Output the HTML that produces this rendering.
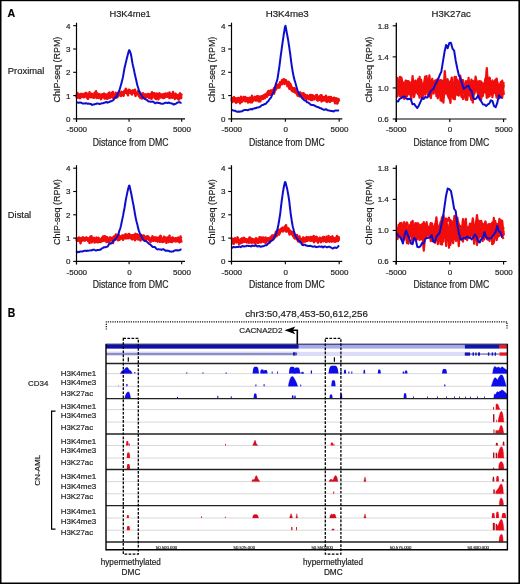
<!DOCTYPE html>
<html><head><meta charset="utf-8"><style>
html,body{margin:0;padding:0;background:#fff;}
svg{display:block;}
text{font-family:"Liberation Sans", sans-serif;stroke:#1a1a1a;stroke-width:0.18px;}
</style></head><body>
<svg width="520" height="584" viewBox="0 0 520 584">
<defs><filter id="bl" x="-2%" y="-2%" width="104%" height="104%"><feGaussianBlur stdDeviation="0.32"/></filter></defs>
<rect x="0" y="0" width="520" height="584" fill="#fff"/>
<g filter="url(#bl)">
<polyline points="76.50,96.36 77.00,96.70 77.50,95.74 78.00,94.74 78.50,95.18 79.00,94.65 79.50,96.45 80.00,98.28 80.50,95.65 81.00,95.30 81.50,96.97 82.00,96.94 82.50,96.30 83.00,94.82 83.50,96.15 84.00,97.04 84.50,94.19 85.00,94.84 85.50,92.89 86.00,93.43 86.50,93.03 87.00,95.20 87.50,94.25 88.00,96.41 88.50,96.48 89.00,95.42 89.50,92.12 90.00,94.82 90.50,96.03 91.00,96.04 91.50,93.73 92.00,94.91 92.50,94.39 93.00,94.94 93.50,97.50 94.00,95.13 94.50,96.14 95.00,97.42 95.50,95.42 96.00,95.89 96.50,96.32 97.00,96.02 97.50,94.27 98.00,96.30 98.50,97.96 99.00,94.19 99.50,97.18 100.00,96.37 100.50,95.58 101.00,99.28 101.50,97.49 102.00,94.43 102.50,96.10 103.00,96.99 103.50,96.08 104.00,97.12 104.50,96.29 105.00,97.43 105.50,98.34 106.00,95.39 106.50,96.17 107.00,95.43 107.50,95.93 108.00,94.13 108.50,94.88 109.00,95.83 109.50,97.67 110.00,97.77 110.50,94.01 111.00,94.56 111.50,96.31 112.00,92.76 112.50,94.61 113.00,95.73 113.50,97.75 114.00,96.87 114.50,95.10 115.00,94.79 115.50,95.28 116.00,97.60 116.50,94.90 117.00,94.76 117.50,95.65 118.00,94.98 118.50,94.33 119.00,92.88 119.50,94.09 120.00,93.75 120.50,95.84 121.00,95.00 121.50,93.75 122.00,94.24 122.50,92.87 123.00,94.38 123.50,93.06 124.00,93.29 124.50,90.75 125.00,92.40 125.50,89.42 126.00,88.74 126.50,91.16 127.00,90.75 127.50,92.65 128.00,95.39 128.50,90.99 129.00,90.77 129.50,92.24 130.00,92.80 130.50,91.89 131.00,91.97 131.50,93.42 132.00,93.08 132.50,90.89 133.00,92.16 133.50,92.39 134.00,91.06 134.50,92.73 135.00,91.72 135.50,94.46 136.00,93.89 136.50,93.70 137.00,92.99 137.50,93.47 138.00,91.10 138.50,92.65 139.00,94.92 139.50,92.25 140.00,96.10 140.50,93.23 141.00,96.28 141.50,94.67 142.00,96.76 142.50,95.76 143.00,93.63 143.50,97.70 144.00,98.29 144.50,95.95 145.00,95.36 145.50,95.34 146.00,94.55 146.50,97.30 147.00,95.30 147.50,95.59 148.00,94.59 148.50,94.58 149.00,94.16 149.50,97.70 150.00,96.29 150.50,97.55 151.00,96.14 151.50,94.91 152.00,95.29 152.50,95.12 153.00,95.88 153.50,95.42 154.00,95.23 154.50,93.68 155.00,94.86 155.50,98.34 156.00,95.14 156.50,94.35 157.00,96.67 157.50,98.03 158.00,94.05 158.50,95.30 159.00,94.66 159.50,93.34 160.00,96.84 160.50,96.20 161.00,96.01 161.50,95.00 162.00,96.50 162.50,95.29 163.00,95.49 163.50,94.05 164.00,94.21 164.50,97.79 165.00,95.62 165.50,96.41 166.00,95.98 166.50,95.26 167.00,95.31 167.50,96.88 168.00,95.70 168.50,95.77 169.00,96.32 169.50,98.05 170.00,97.46 170.50,96.69 171.00,94.97 171.50,93.99 172.00,97.46 172.50,97.75 173.00,96.17 173.50,97.05 174.00,97.58 174.50,97.73 175.00,97.59 175.50,95.87 176.00,98.07 176.50,94.62 177.00,97.25 177.50,97.21 178.00,97.93 178.50,99.50 179.00,98.54 179.50,94.23 180.00,93.36 180.50,96.77 181.00,94.65 181.50,95.83" fill="none" stroke="#f20a0a" stroke-width="2.4" stroke-linejoin="round"/>
<polyline points="76.50,97.32 77.00,93.77 77.50,93.09 78.00,96.26 78.50,96.35 79.00,95.95 79.50,96.12 80.00,94.80 80.50,93.97 81.00,95.57 81.50,94.57 82.00,93.88 82.50,96.64 83.00,96.34 83.50,96.62 84.00,94.82 84.50,94.95 85.00,94.56 85.50,94.85 86.00,96.19 86.50,95.24 87.00,96.64 87.50,97.14 88.00,98.84 88.50,94.82 89.00,97.17 89.50,96.25 90.00,95.90 90.50,94.09 91.00,95.42 91.50,97.13 92.00,96.23 92.50,96.23 93.00,96.01 93.50,97.73 94.00,95.95 94.50,92.97 95.00,94.42 95.50,92.68 96.00,91.16 96.50,95.06 97.00,97.92 97.50,96.25 98.00,94.35 98.50,94.83 99.00,97.57 99.50,96.58 100.00,96.22 100.50,96.07 101.00,96.32 101.50,97.36 102.00,97.08 102.50,96.33 103.00,94.80 103.50,96.50 104.00,95.46 104.50,97.26 105.00,94.51 105.50,95.66 106.00,95.81 106.50,94.57 107.00,98.51 107.50,98.36 108.00,95.86 108.50,97.14 109.00,96.25 109.50,92.55 110.00,95.91 110.50,95.98 111.00,95.85 111.50,94.36 112.00,95.22 112.50,95.70 113.00,97.40 113.50,96.35 114.00,95.94 114.50,97.57 115.00,94.92 115.50,94.44 116.00,93.06 116.50,97.34 117.00,97.06 117.50,96.78 118.00,96.26 118.50,95.22 119.00,94.94 119.50,94.09 120.00,93.88 120.50,94.29 121.00,95.96 121.50,94.55 122.00,93.18 122.50,92.10 123.00,92.11 123.50,94.94 124.00,93.67 124.50,92.70 125.00,91.81 125.50,90.79 126.00,92.20 126.50,93.39 127.00,91.76 127.50,91.67 128.00,91.70 128.50,91.76 129.00,89.63 129.50,91.16 130.00,90.96 130.50,93.03 131.00,91.38 131.50,93.21 132.00,94.51 132.50,92.15 133.00,91.63 133.50,92.72 134.00,92.49 134.50,91.43 135.00,93.64 135.50,95.93 136.00,93.35 136.50,93.12 137.00,92.49 137.50,94.21 138.00,92.60 138.50,93.22 139.00,96.44 139.50,94.50 140.00,97.22 140.50,98.00 141.00,96.40 141.50,96.86 142.00,98.48 142.50,95.70 143.00,94.62 143.50,93.77 144.00,95.87 144.50,98.06 145.00,97.27 145.50,94.56 146.00,94.42 146.50,95.09 147.00,96.20 147.50,95.76 148.00,96.29 148.50,96.39 149.00,95.65 149.50,95.97 150.00,96.33 150.50,96.08 151.00,97.11 151.50,98.88 152.00,97.25 152.50,95.94 153.00,93.80 153.50,95.92 154.00,93.16 154.50,93.90 155.00,97.12 155.50,97.18 156.00,95.67 156.50,93.58 157.00,95.10 157.50,95.17 158.00,97.25 158.50,99.37 159.00,96.65 159.50,94.80 160.00,94.28 160.50,95.73 161.00,95.59 161.50,94.45 162.00,95.79 162.50,94.69 163.00,97.60 163.50,97.96 164.00,97.69 164.50,95.71 165.00,96.67 165.50,95.91 166.00,95.43 166.50,95.27 167.00,93.92 167.50,93.96 168.00,96.86 168.50,95.99 169.00,96.52 169.50,97.18 170.00,93.69 170.50,94.68 171.00,96.24 171.50,96.57 172.00,95.81 172.50,97.47 173.00,96.32 173.50,94.24 174.00,94.69 174.50,97.10 175.00,96.51 175.50,93.76 176.00,97.70 176.50,97.41 177.00,97.98 177.50,95.73 178.00,95.37 178.50,94.92 179.00,99.36 179.50,96.60 180.00,98.12 180.50,95.49 181.00,95.86 181.50,93.45" fill="none" stroke="#f20a0a" stroke-width="2.4" stroke-linejoin="round"/>
<polyline points="76.50,95.84 77.00,97.44 77.50,94.83 78.00,97.71 78.50,96.80 79.00,94.68 79.50,95.22 80.00,95.47 80.50,95.99 81.00,95.28 81.50,94.85 82.00,95.42 82.50,94.39 83.00,94.10 83.50,96.09 84.00,97.25 84.50,94.12 85.00,95.80 85.50,95.06 86.00,94.80 86.50,97.21 87.00,95.92 87.50,98.21 88.00,95.43 88.50,96.59 89.00,95.80 89.50,95.15 90.00,96.90 90.50,96.21 91.00,97.06 91.50,96.03 92.00,94.53 92.50,95.82 93.00,96.44 93.50,97.45 94.00,95.00 94.50,95.58 95.00,93.70 95.50,96.58 96.00,94.30 96.50,93.21 97.00,95.92 97.50,97.49 98.00,93.86 98.50,94.05 99.00,94.57 99.50,94.37 100.00,96.31 100.50,94.85 101.00,95.00 101.50,96.70 102.00,95.19 102.50,96.42 103.00,94.49 103.50,93.72 104.00,93.48 104.50,98.46 105.00,96.05 105.50,96.39 106.00,96.13 106.50,96.34 107.00,96.58 107.50,98.75 108.00,94.59 108.50,93.32 109.00,93.96 109.50,94.01 110.00,97.08 110.50,97.20 111.00,94.39 111.50,93.53 112.00,95.30 112.50,97.22 113.00,91.87 113.50,95.66 114.00,94.30 114.50,96.67 115.00,94.01 115.50,94.47 116.00,92.85 116.50,93.81 117.00,97.30 117.50,96.63 118.00,94.52 118.50,93.13 119.00,91.56 119.50,93.45 120.00,94.06 120.50,93.82 121.00,93.35 121.50,91.78 122.00,92.93 122.50,93.23 123.00,95.12 123.50,95.77 124.00,92.67 124.50,91.38 125.00,92.12 125.50,91.34 126.00,91.09 126.50,91.81 127.00,90.72 127.50,92.78 128.00,92.04 128.50,92.27 129.00,91.50 129.50,90.63 130.00,90.41 130.50,91.44 131.00,91.36 131.50,92.50 132.00,92.10 132.50,90.38 133.00,92.04 133.50,90.44 134.00,91.39 134.50,91.74 135.00,89.64 135.50,92.83 136.00,93.58 136.50,93.35 137.00,93.18 137.50,93.35 138.00,92.88 138.50,94.04 139.00,94.17 139.50,95.10 140.00,93.86 140.50,95.76 141.00,95.88 141.50,95.40 142.00,95.12 142.50,96.12 143.00,93.44 143.50,96.17 144.00,96.30 144.50,96.36 145.00,96.33 145.50,94.90 146.00,95.49 146.50,96.90 147.00,96.74 147.50,96.04 148.00,93.85 148.50,96.74 149.00,98.09 149.50,97.85 150.00,96.31 150.50,93.96 151.00,97.14 151.50,95.52 152.00,92.30 152.50,95.81 153.00,93.63 153.50,93.68 154.00,95.11 154.50,97.77 155.00,95.82 155.50,96.76 156.00,99.07 156.50,98.80 157.00,96.19 157.50,95.43 158.00,93.98 158.50,94.85 159.00,96.64 159.50,96.77 160.00,96.51 160.50,97.43 161.00,95.10 161.50,95.97 162.00,97.27 162.50,97.31 163.00,97.88 163.50,96.82 164.00,95.76 164.50,96.34 165.00,94.30 165.50,93.51 166.00,96.59 166.50,96.16 167.00,96.17 167.50,93.50 168.00,95.05 168.50,94.91 169.00,94.19 169.50,92.43 170.00,95.29 170.50,97.42 171.00,96.70 171.50,95.24 172.00,96.07 172.50,96.64 173.00,92.04 173.50,95.43 174.00,97.00 174.50,97.55 175.00,98.99 175.50,98.18 176.00,96.83 176.50,96.74 177.00,97.20 177.50,95.41 178.00,96.08 178.50,97.82 179.00,99.16 179.50,96.22 180.00,96.00 180.50,96.63 181.00,98.12 181.50,96.29" fill="none" stroke="#f20a0a" stroke-width="2.4" stroke-linejoin="round"/>
<polyline points="76.50,102.81 77.00,102.45 77.50,102.38 78.00,102.61 78.50,102.86 79.00,102.79 79.50,102.47 80.00,102.46 80.50,102.64 81.00,102.64 81.50,102.77 82.00,103.18 82.50,103.43 83.00,103.42 83.50,103.43 84.00,103.53 84.50,103.58 85.00,103.51 85.50,103.29 86.00,103.22 86.50,103.36 87.00,103.52 87.50,103.68 88.00,103.66 88.50,103.55 89.00,103.62 89.50,103.79 90.00,103.88 90.50,103.83 91.00,104.02 91.50,104.55 92.00,104.96 92.50,104.88 93.00,104.56 93.50,104.47 94.00,104.49 94.50,104.26 95.00,104.06 95.50,104.08 96.00,104.02 96.50,103.67 97.00,103.38 97.50,103.48 98.00,103.73 98.50,103.78 99.00,103.82 99.50,103.93 100.00,103.94 100.50,103.83 101.00,103.62 101.50,103.33 102.00,103.14 102.50,103.16 103.00,103.26 103.50,103.07 104.00,102.77 104.50,102.64 105.00,102.62 105.50,102.43 106.00,102.05 106.50,101.96 107.00,102.31 107.50,102.66 108.00,102.48 108.50,102.13 109.00,102.07 109.50,101.96 110.00,101.52 110.50,101.23 111.00,101.21 111.50,101.07 112.00,100.79 112.50,100.48 113.00,100.34 113.50,99.98 114.00,99.24 114.50,98.35 115.00,97.60 115.50,97.26 116.00,97.00 116.50,96.62 117.00,95.77 117.50,94.46 118.00,93.25 118.50,92.31 119.00,91.30 119.50,89.90 120.00,88.26 120.50,86.52 121.00,84.72 121.50,82.94 122.00,81.08 122.50,79.08 123.00,76.79 123.50,73.87 124.00,70.89 124.50,68.30 125.00,65.98 125.50,63.92 126.00,61.87 126.50,59.73 127.00,57.74 127.50,55.78 128.00,53.95 128.50,52.09 129.00,50.28 129.50,50.31 130.00,51.62 130.50,52.99 131.00,54.62 131.50,57.43 132.00,60.60 132.50,63.40 133.00,65.77 133.50,67.89 134.00,70.15 134.50,72.63 135.00,74.96 135.50,77.11 136.00,79.28 136.50,81.49 137.00,83.66 137.50,85.75 138.00,87.23 138.50,88.98 139.00,90.72 139.50,91.84 140.00,92.68 140.50,93.69 141.00,94.59 141.50,95.38 142.00,96.31 142.50,96.98 143.00,97.46 143.50,97.92 144.00,98.32 144.50,98.51 145.00,98.80 145.50,99.27 146.00,99.62 146.50,99.72 147.00,100.04 147.50,100.52 148.00,101.06 148.50,101.43 149.00,101.50 149.50,101.43 150.00,101.59 150.50,101.69 151.00,101.76 151.50,101.83 152.00,101.66 152.50,101.56 153.00,101.73 153.50,101.95 154.00,102.32 154.50,102.80 155.00,103.20 155.50,103.33 156.00,103.02 156.50,102.65 157.00,102.58 157.50,102.65 158.00,102.82 158.50,102.99 159.00,102.92 159.50,102.92 160.00,103.25 160.50,103.50 161.00,103.61 161.50,103.69 162.00,103.69 162.50,103.71 163.00,103.74 163.50,103.63 164.00,103.42 164.50,103.11 165.00,102.81 165.50,102.77 166.00,102.83 166.50,102.78 167.00,102.81 167.50,103.01 168.00,102.91 168.50,102.56 169.00,102.51 169.50,102.80 170.00,103.05 170.50,103.17 171.00,103.30 171.50,103.44 172.00,103.56 172.50,103.65 173.00,103.95 173.50,104.42 174.00,104.54 174.50,104.15 175.00,103.90 175.50,103.92 176.00,103.70 176.50,103.29 177.00,102.95 177.50,102.66 178.00,102.43 178.50,102.34 179.00,102.24 179.50,102.11 180.00,102.24 180.50,102.61 181.00,102.89 181.50,102.96" fill="none" stroke="#1010d0" stroke-width="2.0" stroke-linejoin="round"/>
<line x1="76.5" y1="22.700000000000003" x2="76.5" y2="121.9" stroke="#000" stroke-width="1.2"/>
<line x1="75.9" y1="118.9" x2="185.0" y2="118.9" stroke="#000" stroke-width="1.2"/>
<line x1="73.2" y1="118.9" x2="76.5" y2="118.9" stroke="#000" stroke-width="1.1"/>
<text x="70.5" y="121.8" font-size="8" text-anchor="end" fill="#1a1a1a">0</text>
<line x1="73.2" y1="95.60000000000001" x2="76.5" y2="95.60000000000001" stroke="#000" stroke-width="1.1"/>
<text x="70.5" y="98.5" font-size="8" text-anchor="end" fill="#1a1a1a">1</text>
<line x1="73.2" y1="72.30000000000001" x2="76.5" y2="72.30000000000001" stroke="#000" stroke-width="1.1"/>
<text x="70.5" y="75.2" font-size="8" text-anchor="end" fill="#1a1a1a">2</text>
<line x1="73.2" y1="49.0" x2="76.5" y2="49.0" stroke="#000" stroke-width="1.1"/>
<text x="70.5" y="51.9" font-size="8" text-anchor="end" fill="#1a1a1a">3</text>
<line x1="73.2" y1="25.700000000000003" x2="76.5" y2="25.700000000000003" stroke="#000" stroke-width="1.1"/>
<text x="70.5" y="28.6" font-size="8" text-anchor="end" fill="#1a1a1a">4</text>
<line x1="76.5" y1="118.9" x2="76.5" y2="121.80000000000001" stroke="#000" stroke-width="1.1"/>
<text x="76.8" y="132.2" font-size="8" text-anchor="middle" fill="#1a1a1a">-5000</text>
<line x1="129.1" y1="118.9" x2="129.1" y2="121.80000000000001" stroke="#000" stroke-width="1.1"/>
<text x="129.4" y="132.2" font-size="8" text-anchor="middle" fill="#1a1a1a">0</text>
<line x1="181.7" y1="118.9" x2="181.7" y2="121.80000000000001" stroke="#000" stroke-width="1.1"/>
<text x="182.0" y="132.2" font-size="8" text-anchor="middle" fill="#1a1a1a">5000</text>
<text x="130.6" y="145.6" font-size="10" text-anchor="middle" textLength="75.8" lengthAdjust="spacingAndGlyphs" fill="#1a1a1a">Distance from DMC</text>
<text transform="translate(60.3,69.6) rotate(-90)" font-size="9" text-anchor="middle" textLength="65.9" lengthAdjust="spacingAndGlyphs" fill="#1a1a1a">ChIP-seq (RPM)</text>
<text x="130.1" y="17.3" font-size="9.5" text-anchor="middle" textLength="41.3" lengthAdjust="spacingAndGlyphs" fill="#1a1a1a">H3K4me1</text>
<polyline points="231.50,97.38 232.00,99.40 232.50,101.33 233.00,101.08 233.50,99.97 234.00,98.98 234.50,100.68 235.00,99.15 235.50,98.14 236.00,98.93 236.50,101.86 237.00,100.73 237.50,101.46 238.00,99.60 238.50,100.94 239.00,99.12 239.50,99.92 240.00,103.32 240.50,101.16 241.00,99.13 241.50,99.51 242.00,100.30 242.50,101.25 243.00,98.79 243.50,96.98 244.00,98.80 244.50,99.47 245.00,99.86 245.50,101.33 246.00,100.23 246.50,100.35 247.00,98.12 247.50,100.70 248.00,102.49 248.50,100.76 249.00,99.74 249.50,99.78 250.00,101.49 250.50,98.15 251.00,98.85 251.50,99.77 252.00,99.97 252.50,98.44 253.00,99.07 253.50,98.39 254.00,98.70 254.50,98.16 255.00,96.84 255.50,98.29 256.00,99.32 256.50,96.99 257.00,97.74 257.50,98.73 258.00,96.64 258.50,97.74 259.00,96.59 259.50,99.54 260.00,101.45 260.50,100.77 261.00,97.70 261.50,98.42 262.00,97.65 262.50,97.70 263.00,98.98 263.50,95.51 264.00,97.85 264.50,96.82 265.00,98.20 265.50,96.40 266.00,94.95 266.50,95.98 267.00,96.45 267.50,95.26 268.00,95.19 268.50,93.19 269.00,90.95 269.50,94.43 270.00,94.24 270.50,93.04 271.00,92.62 271.50,93.29 272.00,90.97 272.50,90.06 273.00,90.60 273.50,91.75 274.00,88.53 274.50,90.79 275.00,88.16 275.50,87.13 276.00,89.57 276.50,87.42 277.00,85.18 277.50,86.02 278.00,87.54 278.50,87.35 279.00,84.82 279.50,85.34 280.00,85.28 280.50,83.26 281.00,83.93 281.50,83.09 282.00,81.94 282.50,81.63 283.00,82.01 283.50,81.57 284.00,80.67 284.50,80.95 285.00,82.85 285.50,81.92 286.00,82.65 286.50,83.76 287.00,83.94 287.50,86.24 288.00,83.23 288.50,85.36 289.00,85.17 289.50,88.52 290.00,88.60 290.50,84.25 291.00,85.81 291.50,88.86 292.00,89.90 292.50,90.27 293.00,89.81 293.50,90.99 294.00,91.75 294.50,91.30 295.00,92.41 295.50,88.92 296.00,92.33 296.50,91.26 297.00,93.81 297.50,92.74 298.00,92.16 298.50,93.87 299.00,92.65 299.50,92.61 300.00,92.32 300.50,94.59 301.00,95.85 301.50,96.62 302.00,95.48 302.50,96.88 303.00,95.80 303.50,95.74 304.00,96.89 304.50,97.58 305.00,95.90 305.50,95.94 306.00,96.28 306.50,96.52 307.00,95.63 307.50,97.93 308.00,96.54 308.50,97.30 309.00,95.96 309.50,97.44 310.00,97.63 310.50,97.03 311.00,100.03 311.50,98.53 312.00,100.09 312.50,98.99 313.00,96.71 313.50,97.01 314.00,98.20 314.50,97.90 315.00,97.82 315.50,97.14 316.00,95.33 316.50,96.94 317.00,95.03 317.50,98.11 318.00,97.13 318.50,97.08 319.00,97.91 319.50,98.42 320.00,96.14 320.50,95.56 321.00,96.31 321.50,95.34 322.00,97.18 322.50,100.48 323.00,97.66 323.50,99.20 324.00,97.08 324.50,98.95 325.00,98.51 325.50,98.92 326.00,100.11 326.50,101.64 327.00,99.73 327.50,99.18 328.00,97.99 328.50,99.84 329.00,99.23 329.50,100.45 330.00,99.81 330.50,101.46 331.00,96.97 331.50,98.87 332.00,100.62 332.50,99.09 333.00,98.38 333.50,98.85 334.00,97.72 334.50,100.06 335.00,103.36 335.50,101.61 336.00,98.32 336.50,98.34 337.00,99.34 337.50,101.07 338.00,98.86 338.50,99.03 339.00,101.28" fill="none" stroke="#f20a0a" stroke-width="2.4" stroke-linejoin="round"/>
<polyline points="231.50,101.48 232.00,99.70 232.50,98.40 233.00,97.83 233.50,98.56 234.00,97.21 234.50,100.55 235.00,99.45 235.50,100.87 236.00,102.72 236.50,101.62 237.00,98.79 237.50,101.04 238.00,101.40 238.50,98.90 239.00,98.42 239.50,99.19 240.00,97.90 240.50,100.93 241.00,96.62 241.50,97.75 242.00,99.04 242.50,99.29 243.00,99.80 243.50,99.89 244.00,99.48 244.50,100.55 245.00,96.86 245.50,98.92 246.00,98.48 246.50,99.45 247.00,99.48 247.50,98.04 248.00,98.42 248.50,100.23 249.00,99.69 249.50,98.72 250.00,102.11 250.50,102.24 251.00,97.65 251.50,99.59 252.00,102.40 252.50,100.36 253.00,99.16 253.50,98.37 254.00,97.83 254.50,98.06 255.00,97.83 255.50,99.18 256.00,97.82 256.50,97.35 257.00,96.47 257.50,97.62 258.00,96.76 258.50,97.68 259.00,99.20 259.50,98.48 260.00,98.44 260.50,98.13 261.00,97.61 261.50,97.20 262.00,97.04 262.50,97.99 263.00,96.02 263.50,98.41 264.00,96.79 264.50,95.37 265.00,95.32 265.50,95.06 266.00,95.75 266.50,94.87 267.00,96.59 267.50,93.76 268.00,91.37 268.50,92.51 269.00,91.08 269.50,93.23 270.00,94.56 270.50,93.48 271.00,90.54 271.50,91.01 272.00,93.78 272.50,91.89 273.00,91.02 273.50,92.20 274.00,93.63 274.50,91.67 275.00,89.50 275.50,89.14 276.00,88.81 276.50,86.68 277.00,85.59 277.50,86.30 278.00,84.86 278.50,85.37 279.00,85.64 279.50,87.65 280.00,83.62 280.50,83.61 281.00,83.40 281.50,83.90 282.00,84.14 282.50,81.80 283.00,80.56 283.50,79.17 284.00,80.12 284.50,81.98 285.00,81.31 285.50,79.86 286.00,80.49 286.50,81.88 287.00,83.03 287.50,82.40 288.00,83.04 288.50,81.83 289.00,83.58 289.50,87.21 290.00,83.63 290.50,86.04 291.00,87.56 291.50,87.38 292.00,87.41 292.50,88.89 293.00,89.65 293.50,89.81 294.00,88.28 294.50,90.42 295.00,90.18 295.50,90.92 296.00,92.38 296.50,93.43 297.00,93.92 297.50,92.72 298.00,94.70 298.50,95.59 299.00,95.96 299.50,96.33 300.00,94.69 300.50,94.72 301.00,95.78 301.50,93.53 302.00,95.23 302.50,94.72 303.00,94.72 303.50,93.26 304.00,94.44 304.50,96.04 305.00,97.55 305.50,97.81 306.00,96.57 306.50,96.19 307.00,95.63 307.50,97.08 308.00,96.67 308.50,97.94 309.00,99.34 309.50,97.03 310.00,94.98 310.50,95.52 311.00,94.97 311.50,95.72 312.00,98.91 312.50,97.70 313.00,95.69 313.50,98.39 314.00,99.35 314.50,97.36 315.00,96.79 315.50,97.36 316.00,98.36 316.50,99.10 317.00,99.95 317.50,100.15 318.00,100.21 318.50,100.36 319.00,99.14 319.50,96.45 320.00,98.02 320.50,98.77 321.00,98.22 321.50,99.61 322.00,98.13 322.50,97.64 323.00,100.54 323.50,99.92 324.00,99.37 324.50,100.29 325.00,100.52 325.50,99.16 326.00,95.74 326.50,97.66 327.00,98.22 327.50,97.83 328.00,99.50 328.50,100.76 329.00,98.69 329.50,98.14 330.00,101.75 330.50,98.97 331.00,97.81 331.50,99.66 332.00,100.00 332.50,98.85 333.00,100.41 333.50,98.97 334.00,98.40 334.50,99.90 335.00,100.66 335.50,99.14 336.00,100.11 336.50,100.27 337.00,103.42 337.50,99.73 338.00,101.62 338.50,100.13 339.00,99.82" fill="none" stroke="#f20a0a" stroke-width="2.4" stroke-linejoin="round"/>
<polyline points="231.50,101.36 232.00,101.59 232.50,101.87 233.00,100.66 233.50,99.41 234.00,99.47 234.50,100.68 235.00,101.03 235.50,101.81 236.00,100.87 236.50,101.51 237.00,101.90 237.50,100.10 238.00,97.98 238.50,98.00 239.00,98.20 239.50,101.28 240.00,99.21 240.50,101.12 241.00,100.84 241.50,101.92 242.00,101.06 242.50,99.61 243.00,99.34 243.50,99.64 244.00,99.65 244.50,98.89 245.00,99.59 245.50,101.03 246.00,97.70 246.50,99.25 247.00,98.35 247.50,99.51 248.00,100.28 248.50,99.43 249.00,99.86 249.50,97.63 250.00,100.10 250.50,98.69 251.00,99.75 251.50,98.92 252.00,95.83 252.50,97.60 253.00,99.16 253.50,100.59 254.00,99.23 254.50,98.66 255.00,97.07 255.50,100.11 256.00,100.63 256.50,98.50 257.00,97.62 257.50,96.27 258.00,99.17 258.50,101.30 259.00,99.27 259.50,99.40 260.00,98.33 260.50,96.72 261.00,98.70 261.50,96.14 262.00,96.93 262.50,97.68 263.00,98.20 263.50,97.54 264.00,97.03 264.50,95.39 265.00,94.60 265.50,95.76 266.00,94.76 266.50,93.74 267.00,93.60 267.50,93.92 268.00,92.15 268.50,92.09 269.00,91.74 269.50,93.47 270.00,93.89 270.50,94.86 271.00,90.77 271.50,91.04 272.00,92.46 272.50,91.00 273.00,90.63 273.50,92.28 274.00,89.70 274.50,87.91 275.00,87.36 275.50,88.77 276.00,88.24 276.50,85.85 277.00,85.79 277.50,87.14 278.00,86.75 278.50,85.04 279.00,85.83 279.50,85.21 280.00,82.30 280.50,83.37 281.00,83.90 281.50,82.23 282.00,80.15 282.50,81.85 283.00,83.09 283.50,83.24 284.00,79.63 284.50,83.96 285.00,80.59 285.50,82.38 286.00,82.90 286.50,83.18 287.00,82.62 287.50,81.90 288.00,84.23 288.50,83.32 289.00,82.50 289.50,88.70 290.00,87.82 290.50,88.92 291.00,86.85 291.50,89.79 292.00,90.87 292.50,91.17 293.00,89.71 293.50,88.82 294.00,90.03 294.50,88.23 295.00,89.10 295.50,91.43 296.00,90.90 296.50,92.03 297.00,92.87 297.50,95.49 298.00,95.18 298.50,94.04 299.00,95.30 299.50,93.57 300.00,94.30 300.50,95.64 301.00,93.63 301.50,94.40 302.00,93.72 302.50,95.63 303.00,97.41 303.50,95.17 304.00,95.91 304.50,94.87 305.00,94.54 305.50,94.98 306.00,98.41 306.50,99.67 307.00,97.50 307.50,96.10 308.00,97.47 308.50,96.73 309.00,97.88 309.50,97.53 310.00,97.56 310.50,97.83 311.00,96.59 311.50,96.47 312.00,95.23 312.50,96.43 313.00,95.76 313.50,97.04 314.00,96.53 314.50,97.77 315.00,98.12 315.50,96.15 316.00,96.62 316.50,96.90 317.00,99.07 317.50,100.39 318.00,99.41 318.50,98.21 319.00,99.72 319.50,97.05 320.00,99.81 320.50,97.49 321.00,95.58 321.50,101.46 322.00,100.70 322.50,97.73 323.00,98.71 323.50,98.55 324.00,98.66 324.50,97.03 325.00,97.95 325.50,99.43 326.00,99.53 326.50,100.51 327.00,99.76 327.50,101.80 328.00,98.78 328.50,99.15 329.00,96.91 329.50,97.79 330.00,100.59 330.50,98.61 331.00,99.91 331.50,99.33 332.00,98.24 332.50,98.91 333.00,98.86 333.50,99.10 334.00,100.57 334.50,100.49 335.00,99.02 335.50,98.66 336.00,99.97 336.50,99.93 337.00,101.48 337.50,103.30 338.00,101.34 338.50,100.04 339.00,99.78" fill="none" stroke="#f20a0a" stroke-width="2.4" stroke-linejoin="round"/>
<polyline points="231.50,109.95 232.00,109.99 232.50,110.10 233.00,110.31 233.50,110.57 234.00,110.75 234.50,110.70 235.00,110.62 235.50,110.81 236.00,111.26 236.50,111.59 237.00,111.75 237.50,111.76 238.00,111.65 238.50,111.55 239.00,111.74 239.50,111.83 240.00,111.52 240.50,111.52 241.00,111.60 241.50,111.42 242.00,111.25 242.50,111.03 243.00,110.67 243.50,110.37 244.00,110.08 244.50,109.91 245.00,109.90 245.50,109.99 246.00,110.03 246.50,109.93 247.00,109.93 247.50,110.25 248.00,110.30 248.50,109.95 249.00,109.57 249.50,109.44 250.00,109.41 250.50,109.17 251.00,109.01 251.50,109.32 252.00,109.39 252.50,108.94 253.00,108.75 253.50,108.71 254.00,108.60 254.50,108.41 255.00,108.12 255.50,108.12 256.00,108.16 256.50,107.86 257.00,107.54 257.50,107.44 258.00,107.46 258.50,107.44 259.00,107.20 259.50,106.95 260.00,106.74 260.50,106.53 261.00,105.96 261.50,105.35 262.00,105.13 262.50,105.03 263.00,105.00 263.50,104.85 264.00,104.32 264.50,104.04 265.00,104.10 265.50,104.02 266.00,103.71 266.50,103.01 267.00,102.17 267.50,101.73 268.00,101.44 268.50,100.86 269.00,100.04 269.50,99.27 270.00,98.62 270.50,98.18 271.00,97.62 271.50,96.41 272.00,95.09 272.50,94.21 273.00,93.52 273.50,92.59 274.00,91.33 274.50,89.34 275.00,87.32 275.50,85.30 276.00,83.60 276.50,82.12 277.00,80.48 277.50,78.75 278.00,75.68 278.50,72.31 279.00,69.00 279.50,65.66 280.00,61.74 280.50,57.72 281.00,53.93 281.50,50.29 282.00,46.66 282.50,43.14 283.00,39.54 283.50,36.11 284.00,32.99 284.50,29.86 285.00,26.67 285.50,25.77 286.00,28.35 286.50,31.22 287.00,33.89 287.50,36.49 288.00,39.20 288.50,42.30 289.00,45.73 289.50,49.16 290.00,52.33 290.50,56.14 291.00,60.26 291.50,64.14 292.00,67.47 292.50,70.50 293.00,73.24 293.50,75.69 294.00,78.12 294.50,79.88 295.00,81.56 295.50,83.29 296.00,85.11 296.50,86.90 297.00,88.60 297.50,90.33 298.00,91.68 298.50,92.54 299.00,93.60 299.50,94.64 300.00,95.28 300.50,95.79 301.00,96.48 301.50,97.32 302.00,98.07 302.50,98.58 303.00,98.90 303.50,99.40 304.00,99.97 304.50,100.30 305.00,100.53 305.50,100.65 306.00,100.99 306.50,101.67 307.00,102.28 307.50,102.37 308.00,102.38 308.50,102.65 309.00,103.10 309.50,103.60 310.00,104.11 310.50,104.54 311.00,104.76 311.50,104.92 312.00,104.99 312.50,104.92 313.00,104.89 313.50,105.15 314.00,105.44 314.50,105.53 315.00,105.72 315.50,106.19 316.00,106.47 316.50,106.61 317.00,106.83 317.50,107.09 318.00,107.22 318.50,107.22 319.00,107.45 319.50,107.89 320.00,108.16 320.50,108.22 321.00,108.29 321.50,108.49 322.00,108.88 322.50,109.19 323.00,109.38 323.50,109.70 324.00,109.84 324.50,109.75 325.00,109.62 325.50,109.33 326.00,109.21 326.50,109.48 327.00,109.89 327.50,110.20 328.00,110.37 328.50,110.40 329.00,110.42 329.50,110.62 330.00,110.75 330.50,110.89 331.00,111.03 331.50,111.03 332.00,110.90 332.50,111.01 333.00,111.29 333.50,111.45 334.00,111.25 334.50,110.84 335.00,110.59 335.50,110.56 336.00,110.52 336.50,110.47 337.00,110.57 337.50,110.48 338.00,110.37 338.50,110.56 339.00,110.79" fill="none" stroke="#1010d0" stroke-width="2.0" stroke-linejoin="round"/>
<line x1="231.5" y1="22.700000000000003" x2="231.5" y2="121.9" stroke="#000" stroke-width="1.2"/>
<line x1="230.9" y1="118.9" x2="342.3" y2="118.9" stroke="#000" stroke-width="1.2"/>
<line x1="228.2" y1="118.9" x2="231.5" y2="118.9" stroke="#000" stroke-width="1.1"/>
<text x="225.5" y="121.8" font-size="8" text-anchor="end" fill="#1a1a1a">0</text>
<line x1="228.2" y1="95.60000000000001" x2="231.5" y2="95.60000000000001" stroke="#000" stroke-width="1.1"/>
<text x="225.5" y="98.5" font-size="8" text-anchor="end" fill="#1a1a1a">1</text>
<line x1="228.2" y1="72.30000000000001" x2="231.5" y2="72.30000000000001" stroke="#000" stroke-width="1.1"/>
<text x="225.5" y="75.2" font-size="8" text-anchor="end" fill="#1a1a1a">2</text>
<line x1="228.2" y1="49.0" x2="231.5" y2="49.0" stroke="#000" stroke-width="1.1"/>
<text x="225.5" y="51.9" font-size="8" text-anchor="end" fill="#1a1a1a">3</text>
<line x1="228.2" y1="25.700000000000003" x2="231.5" y2="25.700000000000003" stroke="#000" stroke-width="1.1"/>
<text x="225.5" y="28.6" font-size="8" text-anchor="end" fill="#1a1a1a">4</text>
<line x1="231.5" y1="118.9" x2="231.5" y2="121.80000000000001" stroke="#000" stroke-width="1.1"/>
<text x="231.8" y="132.2" font-size="8" text-anchor="middle" fill="#1a1a1a">-5000</text>
<line x1="285.35" y1="118.9" x2="285.35" y2="121.80000000000001" stroke="#000" stroke-width="1.1"/>
<text x="285.65" y="132.2" font-size="8" text-anchor="middle" fill="#1a1a1a">0</text>
<line x1="339.2" y1="118.9" x2="339.2" y2="121.80000000000001" stroke="#000" stroke-width="1.1"/>
<text x="339.5" y="132.2" font-size="8" text-anchor="middle" fill="#1a1a1a">5000</text>
<text x="286.85" y="145.6" font-size="10" text-anchor="middle" textLength="75.8" lengthAdjust="spacingAndGlyphs" fill="#1a1a1a">Distance from DMC</text>
<text transform="translate(215.3,69.6) rotate(-90)" font-size="9" text-anchor="middle" textLength="65.9" lengthAdjust="spacingAndGlyphs" fill="#1a1a1a">ChIP-seq (RPM)</text>
<text x="287.2" y="17.3" font-size="9.5" text-anchor="middle" textLength="43.1" lengthAdjust="spacingAndGlyphs" fill="#1a1a1a">H3K4me3</text>
<polyline points="397.20,89.68 398.60,93.22 400.00,88.65 401.40,94.12 402.80,94.20 404.20,87.49 405.60,95.15 407.00,88.79 408.40,88.35 409.80,83.31 411.20,86.48 412.60,91.80 414.00,81.38 415.40,91.17 416.80,89.70 418.20,89.29 419.60,76.88 421.00,87.39 422.40,91.17 423.80,84.12 425.20,88.33 426.60,76.03 428.00,91.24 429.40,84.64 430.80,92.25 432.20,78.73 433.60,91.36 435.00,86.77 436.40,92.07 437.80,83.04 439.20,84.60 440.60,100.40 442.00,83.23 443.40,83.78 444.80,86.24 446.20,81.80 447.60,95.11 449.00,98.32 450.40,83.70 451.80,77.56 453.20,94.97 454.60,94.65 456.00,92.93 457.40,94.89 458.80,82.80 460.20,86.90 461.60,79.99 463.00,79.99 464.40,93.27 465.80,84.40 467.20,99.88 468.60,88.35 470.00,84.74 471.40,91.95 472.80,96.99 474.20,90.38 475.60,81.85 477.00,89.80 478.40,94.83 479.80,85.47 481.20,84.07 482.60,93.02 484.00,88.63 485.40,82.40 486.80,85.99 488.20,84.14 489.60,89.41 491.00,88.51 492.40,93.72 493.80,91.48 495.20,80.12 496.60,89.96 498.00,92.45 499.40,90.26 500.80,93.09 502.20,85.18 503.60,83.14" fill="none" stroke="#f20a0a" stroke-width="2.2" stroke-linejoin="round"/>
<polyline points="397.20,92.74 398.60,82.40 400.00,76.77 401.40,93.17 402.80,84.21 404.20,86.31 405.60,80.68 407.00,81.03 408.40,81.92 409.80,86.05 411.20,89.79 412.60,76.08 414.00,91.75 415.40,81.82 416.80,82.41 418.20,91.41 419.60,87.53 421.00,80.03 422.40,97.42 423.80,83.53 425.20,89.20 426.60,89.00 428.00,95.22 429.40,85.63 430.80,93.12 432.20,84.14 433.60,93.70 435.00,84.01 436.40,86.03 437.80,98.28 439.20,89.75 440.60,88.62 442.00,101.15 443.40,90.15 444.80,82.92 446.20,92.44 447.60,80.65 449.00,94.93 450.40,95.42 451.80,84.39 453.20,84.03 454.60,89.01 456.00,88.00 457.40,81.88 458.80,91.35 460.20,75.66 461.60,85.33 463.00,85.59 464.40,86.39 465.80,89.60 467.20,81.31 468.60,91.02 470.00,87.00 471.40,84.54 472.80,80.83 474.20,81.80 475.60,89.75 477.00,82.96 478.40,88.27 479.80,93.44 481.20,93.32 482.60,96.01 484.00,86.41 485.40,82.34 486.80,93.19 488.20,89.58 489.60,93.75 491.00,88.04 492.40,94.13 493.80,92.35 495.20,91.66 496.60,90.56 498.00,90.00 499.40,89.15 500.80,89.13 502.20,93.04 503.60,85.30" fill="none" stroke="#f20a0a" stroke-width="2.2" stroke-linejoin="round"/>
<polyline points="397.20,97.41 398.60,87.41 400.00,93.29 401.40,87.46 402.80,86.63 404.20,98.98 405.60,86.27 407.00,80.96 408.40,84.02 409.80,86.24 411.20,99.65 412.60,89.12 414.00,93.00 415.40,82.51 416.80,89.84 418.20,91.63 419.60,97.73 421.00,84.20 422.40,91.21 423.80,89.57 425.20,82.38 426.60,87.80 428.00,86.45 429.40,75.29 430.80,91.15 432.20,90.88 433.60,85.53 435.00,80.67 436.40,96.19 437.80,89.52 439.20,93.97 440.60,96.48 442.00,84.76 443.40,93.07 444.80,86.38 446.20,87.52 447.60,87.37 449.00,87.95 450.40,95.21 451.80,88.77 453.20,86.93 454.60,86.13 456.00,90.13 457.40,82.09 458.80,84.67 460.20,87.58 461.60,84.42 463.00,87.19 464.40,84.34 465.80,99.61 467.20,95.55 468.60,90.47 470.00,87.70 471.40,99.86 472.80,89.73 474.20,87.47 475.60,89.59 477.00,89.63 478.40,95.61 479.80,87.90 481.20,99.33 482.60,83.19 484.00,91.67 485.40,82.54 486.80,97.79 488.20,86.17 489.60,87.63 491.00,92.99 492.40,94.76 493.80,81.90 495.20,86.00 496.60,80.34 498.00,88.65 499.40,87.38 500.80,86.02 502.20,84.19 503.60,85.81" fill="none" stroke="#f20a0a" stroke-width="2.2" stroke-linejoin="round"/>
<polyline points="397.20,83.90 398.60,90.80 400.00,96.08 401.40,77.55 402.80,87.26 404.20,85.69 405.60,90.56 407.00,82.81 408.40,87.10 409.80,82.34 411.20,91.67 412.60,88.48 414.00,87.07 415.40,89.92 416.80,86.58 418.20,79.56 419.60,91.12 421.00,89.50 422.40,87.13 423.80,93.27 425.20,94.50 426.60,82.05 428.00,83.73 429.40,96.29 430.80,95.60 432.20,83.96 433.60,81.54 435.00,84.46 436.40,85.12 437.80,78.90 439.20,88.05 440.60,80.23 442.00,80.48 443.40,93.66 444.80,83.55 446.20,87.47 447.60,92.02 449.00,93.20 450.40,85.77 451.80,88.19 453.20,82.64 454.60,99.24 456.00,92.16 457.40,80.81 458.80,87.95 460.20,92.42 461.60,90.94 463.00,98.99 464.40,96.05 465.80,84.85 467.20,87.39 468.60,80.86 470.00,89.26 471.40,88.81 472.80,102.52 474.20,88.47 475.60,76.63 477.00,84.27 478.40,88.50 479.80,81.14 481.20,83.22 482.60,85.95 484.00,89.77 485.40,87.03 486.80,83.15 488.20,92.15 489.60,85.03 491.00,85.20 492.40,80.47 493.80,83.68 495.20,91.40 496.60,79.22 498.00,87.53 499.40,91.79 500.80,85.92 502.20,89.20 503.60,81.89" fill="none" stroke="#f20a0a" stroke-width="2.2" stroke-linejoin="round"/>
<polyline points="397.20,94.26 398.60,93.24 400.00,89.05 401.40,79.50 402.80,82.90 404.20,92.63 405.60,96.18 407.00,89.41 408.40,93.91 409.80,85.04 411.20,87.01 412.60,87.94 414.00,89.93 415.40,80.62 416.80,92.44 418.20,94.27 419.60,82.42 421.00,81.42 422.40,89.58 423.80,84.76 425.20,76.56 426.60,91.77 428.00,88.69 429.40,85.69 430.80,98.07 432.20,88.62 433.60,84.32 435.00,88.39 436.40,82.79 437.80,84.06 439.20,89.92 440.60,84.98 442.00,85.49 443.40,97.29 444.80,92.92 446.20,92.59 447.60,91.01 449.00,90.77 450.40,96.33 451.80,87.89 453.20,98.59 454.60,82.49 456.00,86.41 457.40,79.98 458.80,85.96 460.20,90.85 461.60,95.87 463.00,84.41 464.40,87.94 465.80,86.07 467.20,84.19 468.60,82.08 470.00,88.17 471.40,79.63 472.80,88.43 474.20,88.02 475.60,84.76 477.00,83.05 478.40,81.31 479.80,96.86 481.20,81.56 482.60,95.39 484.00,90.83 485.40,86.18 486.80,82.39 488.20,92.95 489.60,96.23 491.00,83.48 492.40,86.50 493.80,92.98 495.20,89.60 496.60,97.52 498.00,85.25 499.40,90.50 500.80,81.98 502.20,97.95 503.60,84.45" fill="none" stroke="#f20a0a" stroke-width="2.2" stroke-linejoin="round"/>
<polyline points="397.20,76.83 398.60,87.26 400.00,87.27 401.40,97.51 402.80,86.27 404.20,87.87 405.60,90.93 407.00,95.89 408.40,87.67 409.80,93.15 411.20,90.54 412.60,86.46 414.00,88.32 415.40,88.06 416.80,83.37 418.20,93.96 419.60,81.04 421.00,93.79 422.40,92.73 423.80,87.47 425.20,84.10 426.60,86.79 428.00,90.31 429.40,91.67 430.80,89.40 432.20,92.90 433.60,85.17 435.00,89.07 436.40,79.88 437.80,91.94 439.20,88.77 440.60,85.65 442.00,94.57 443.40,91.94 444.80,71.09 446.20,88.07 447.60,79.22 449.00,94.37 450.40,102.90 451.80,84.88 453.20,88.36 454.60,86.44 456.00,90.05 457.40,91.84 458.80,95.57 460.20,82.25 461.60,96.86 463.00,82.77 464.40,89.45 465.80,94.16 467.20,91.67 468.60,83.13 470.00,84.39 471.40,85.60 472.80,87.69 474.20,93.65 475.60,81.50 477.00,90.26 478.40,91.01 479.80,90.75 481.20,90.31 482.60,95.55 484.00,90.42 485.40,92.24 486.80,90.81 488.20,96.88 489.60,78.48 491.00,94.31 492.40,86.65 493.80,86.50 495.20,83.04 496.60,78.55 498.00,85.97 499.40,84.49 500.80,90.37 502.20,80.60 503.60,95.10" fill="none" stroke="#f20a0a" stroke-width="2.2" stroke-linejoin="round"/>
<polyline points="397.20,89.26 398.60,86.71 400.00,84.44 401.40,84.05 402.80,82.38 404.20,85.25 405.60,87.95 407.00,87.04 408.40,81.00 409.80,86.59 411.20,83.56 412.60,88.73 414.00,97.07 415.40,91.02 416.80,86.38 418.20,79.95 419.60,80.95 421.00,79.67 422.40,91.44 423.80,84.20 425.20,88.21 426.60,84.89 428.00,88.39 429.40,94.78 430.80,84.60 432.20,86.24 433.60,84.00 435.00,92.18 436.40,82.77 437.80,82.03 439.20,80.52 440.60,80.25 442.00,90.59 443.40,102.61 444.80,82.19 446.20,93.50 447.60,89.40 449.00,81.46 450.40,86.28 451.80,86.54 453.20,83.92 454.60,99.21 456.00,76.79 457.40,90.14 458.80,89.85 460.20,84.64 461.60,88.77 463.00,92.74 464.40,88.78 465.80,90.14 467.20,91.45 468.60,77.80 470.00,95.17 471.40,99.13 472.80,92.80 474.20,92.89 475.60,81.06 477.00,87.31 478.40,83.95 479.80,85.06 481.20,92.64 482.60,84.01 484.00,87.25 485.40,78.59 486.80,87.12 488.20,88.36 489.60,84.47 491.00,84.43 492.40,97.13 493.80,82.03 495.20,82.75 496.60,83.98 498.00,93.83 499.40,98.25 500.80,89.59 502.20,84.42 503.60,85.82" fill="none" stroke="#f20a0a" stroke-width="2.2" stroke-linejoin="round"/>
<polyline points="397.20,93.72 398.60,83.04 400.00,95.83 401.40,95.66 402.80,88.36 404.20,91.46 405.60,92.05 407.00,96.36 408.40,82.28 409.80,94.32 411.20,85.90 412.60,83.76 414.00,88.47 415.40,86.75 416.80,82.53 418.20,79.22 419.60,82.82 421.00,95.84 422.40,98.63 423.80,91.53 425.20,94.37 426.60,85.15 428.00,87.51 429.40,89.44 430.80,82.05 432.20,82.54 433.60,88.43 435.00,86.17 436.40,82.00 437.80,90.12 439.20,86.42 440.60,94.09 442.00,87.92 443.40,86.03 444.80,88.75 446.20,86.80 447.60,83.57 449.00,85.32 450.40,92.82 451.80,92.20 453.20,96.29 454.60,76.93 456.00,85.32 457.40,85.23 458.80,89.02 460.20,85.07 461.60,84.77 463.00,92.67 464.40,88.98 465.80,81.19 467.20,95.51 468.60,93.49 470.00,84.86 471.40,92.42 472.80,83.98 474.20,94.02 475.60,86.76 477.00,83.56 478.40,85.87 479.80,83.77 481.20,88.96 482.60,88.89 484.00,88.12 485.40,84.84 486.80,68.05 488.20,88.32 489.60,77.65 491.00,89.24 492.40,94.08 493.80,89.44 495.20,85.82 496.60,86.95 498.00,87.20 499.40,84.94 500.80,84.73 502.20,82.93 503.60,94.39" fill="none" stroke="#f20a0a" stroke-width="2.2" stroke-linejoin="round"/>
<polyline points="396.50,101.11 398.10,101.53 399.70,98.83 401.30,98.19 402.90,96.69 404.50,96.42 406.10,98.46 407.70,99.25 409.30,98.82 410.90,99.52 412.50,104.31 414.10,103.85 415.70,106.10 417.30,108.06 418.90,105.39 420.50,101.92 422.10,97.79 423.70,99.03 425.30,96.86 426.90,97.66 428.50,96.17 430.10,92.17 431.70,90.02 433.30,89.20 434.90,85.32 436.50,82.32 438.10,79.30 439.70,75.07 441.30,71.91 442.90,61.85 444.50,52.09 446.10,44.99 447.70,48.25 449.30,43.03 450.90,42.83 452.50,48.58 454.10,50.53 455.70,60.64 457.30,68.51 458.90,75.45 460.50,78.55 462.10,83.60 463.70,89.01 465.30,87.79 466.90,86.26 468.50,85.75 470.10,89.55 471.70,91.07 473.30,98.11 474.90,99.07 476.50,98.31 478.10,95.58 479.70,99.45 481.30,101.48 482.90,104.39 484.50,104.58 486.10,106.14 487.70,104.45 489.30,103.66 490.90,100.26 492.50,101.11 494.10,106.20 495.70,107.17 497.30,102.88 498.90,95.32 500.50,97.27 502.10,97.46" fill="none" stroke="#1010d0" stroke-width="2.0" stroke-linejoin="round"/>
<line x1="396.3" y1="22.799999999999983" x2="396.3" y2="122.0" stroke="#000" stroke-width="1.3"/>
<line x1="395.4" y1="119.0" x2="506.5" y2="119.0" stroke="#000" stroke-width="1.2"/>
<line x1="392.7" y1="119.0" x2="396.0" y2="119.0" stroke="#000" stroke-width="1.1"/>
<text x="388.8" y="121.9" font-size="8" text-anchor="end" fill="#1a1a1a">0.6</text>
<line x1="392.7" y1="87.93333333333334" x2="396.0" y2="87.93333333333334" stroke="#000" stroke-width="1.1"/>
<text x="388.8" y="90.83" font-size="8" text-anchor="end" fill="#1a1a1a">1.0</text>
<line x1="392.7" y1="56.86666666666667" x2="396.0" y2="56.86666666666667" stroke="#000" stroke-width="1.1"/>
<text x="388.8" y="59.77" font-size="8" text-anchor="end" fill="#1a1a1a">1.4</text>
<line x1="392.7" y1="25.799999999999983" x2="396.0" y2="25.799999999999983" stroke="#000" stroke-width="1.1"/>
<text x="388.8" y="28.7" font-size="8" text-anchor="end" fill="#1a1a1a">1.8</text>
<line x1="396.0" y1="119.0" x2="396.0" y2="121.9" stroke="#000" stroke-width="1.1"/>
<text x="396.3" y="132.2" font-size="8" text-anchor="middle" fill="#1a1a1a">-5000</text>
<line x1="449.8" y1="119.0" x2="449.8" y2="121.9" stroke="#000" stroke-width="1.1"/>
<text x="450.1" y="132.2" font-size="8" text-anchor="middle" fill="#1a1a1a">0</text>
<line x1="503.6" y1="119.0" x2="503.6" y2="121.9" stroke="#000" stroke-width="1.1"/>
<text x="503.9" y="132.2" font-size="8" text-anchor="middle" fill="#1a1a1a">5000</text>
<text x="451.3" y="145.6" font-size="10" text-anchor="middle" textLength="75.8" lengthAdjust="spacingAndGlyphs" fill="#1a1a1a">Distance from DMC</text>
<text transform="translate(371.9,69.6) rotate(-90)" font-size="9" text-anchor="middle" textLength="65.9" lengthAdjust="spacingAndGlyphs" fill="#1a1a1a">ChIP-seq (RPM)</text>
<text x="451.2" y="17.3" font-size="9.5" text-anchor="middle" textLength="39.3" lengthAdjust="spacingAndGlyphs" fill="#1a1a1a">H3K27ac</text>
<polyline points="76.50,237.64 77.00,240.47 77.50,238.59 78.00,240.50 78.50,240.09 79.00,237.39 79.50,238.03 80.00,238.67 80.50,238.27 81.00,238.07 81.50,240.39 82.00,239.54 82.50,240.04 83.00,239.19 83.50,239.83 84.00,238.67 84.50,239.55 85.00,240.39 85.50,239.69 86.00,238.80 86.50,238.09 87.00,239.67 87.50,240.02 88.00,239.15 88.50,238.59 89.00,240.59 89.50,242.91 90.00,239.65 90.50,240.00 91.00,239.63 91.50,236.18 92.00,239.09 92.50,238.84 93.00,241.18 93.50,239.26 94.00,238.36 94.50,239.08 95.00,239.56 95.50,238.74 96.00,239.04 96.50,237.59 97.00,239.04 97.50,240.79 98.00,242.33 98.50,240.78 99.00,240.12 99.50,241.23 100.00,241.28 100.50,242.00 101.00,241.12 101.50,239.47 102.00,239.73 102.50,239.71 103.00,239.83 103.50,239.54 104.00,237.96 104.50,236.27 105.00,237.69 105.50,236.51 106.00,239.04 106.50,239.03 107.00,237.19 107.50,240.07 108.00,240.59 108.50,239.87 109.00,241.86 109.50,241.86 110.00,238.18 110.50,240.41 111.00,239.91 111.50,239.76 112.00,240.04 112.50,237.84 113.00,237.56 113.50,237.18 114.00,237.25 114.50,237.79 115.00,236.07 115.50,236.56 116.00,238.58 116.50,237.98 117.00,237.95 117.50,235.09 118.00,236.10 118.50,236.60 119.00,237.21 119.50,236.66 120.00,238.30 120.50,237.23 121.00,237.11 121.50,237.21 122.00,237.89 122.50,236.69 123.00,238.46 123.50,237.77 124.00,237.19 124.50,237.03 125.00,237.71 125.50,238.41 126.00,238.26 126.50,237.55 127.00,237.94 127.50,237.19 128.00,238.30 128.50,236.39 129.00,234.00 129.50,237.94 130.00,236.64 130.50,234.93 131.00,235.93 131.50,235.77 132.00,239.39 132.50,237.46 133.00,234.84 133.50,237.17 134.00,236.75 134.50,239.19 135.00,235.47 135.50,233.80 136.00,236.65 136.50,236.54 137.00,236.11 137.50,234.31 138.00,237.70 138.50,239.23 139.00,235.27 139.50,238.47 140.00,237.28 140.50,240.61 141.00,238.56 141.50,237.71 142.00,239.31 142.50,238.66 143.00,237.39 143.50,238.80 144.00,237.27 144.50,236.12 145.00,240.66 145.50,238.22 146.00,237.70 146.50,238.67 147.00,236.44 147.50,236.62 148.00,237.88 148.50,238.21 149.00,239.28 149.50,240.60 150.00,238.92 150.50,239.96 151.00,239.98 151.50,237.99 152.00,239.24 152.50,238.29 153.00,240.65 153.50,240.13 154.00,239.20 154.50,237.58 155.00,239.13 155.50,238.49 156.00,240.16 156.50,239.21 157.00,238.46 157.50,240.63 158.00,240.44 158.50,238.97 159.00,240.82 159.50,239.20 160.00,239.01 160.50,239.43 161.00,238.41 161.50,238.72 162.00,239.47 162.50,241.79 163.00,241.74 163.50,239.73 164.00,241.62 164.50,239.84 165.00,240.21 165.50,240.86 166.00,240.55 166.50,242.90 167.00,240.13 167.50,238.27 168.00,241.05 168.50,239.24 169.00,238.60 169.50,235.76 170.00,240.58 170.50,241.07 171.00,241.05 171.50,241.42 172.00,242.10 172.50,240.10 173.00,240.80 173.50,238.81 174.00,239.30 174.50,241.14 175.00,240.20 175.50,238.14 176.00,240.04 176.50,239.56 177.00,238.89 177.50,240.35 178.00,239.30 178.50,237.72 179.00,238.70 179.50,242.09 180.00,238.59 180.50,240.44 181.00,241.33 181.50,241.49" fill="none" stroke="#f20a0a" stroke-width="2.4" stroke-linejoin="round"/>
<polyline points="76.50,237.88 77.00,239.12 77.50,239.98 78.00,240.65 78.50,238.81 79.00,238.26 79.50,240.97 80.00,241.35 80.50,240.24 81.00,239.02 81.50,240.10 82.00,240.01 82.50,240.53 83.00,238.20 83.50,239.54 84.00,239.25 84.50,238.20 85.00,239.70 85.50,239.62 86.00,239.14 86.50,239.78 87.00,237.82 87.50,239.34 88.00,240.17 88.50,240.19 89.00,240.78 89.50,237.93 90.00,237.43 90.50,239.66 91.00,240.53 91.50,242.44 92.00,240.53 92.50,238.63 93.00,240.24 93.50,238.29 94.00,237.88 94.50,242.64 95.00,240.47 95.50,240.55 96.00,240.63 96.50,241.94 97.00,240.34 97.50,240.88 98.00,238.08 98.50,237.70 99.00,241.27 99.50,241.65 100.00,240.36 100.50,239.81 101.00,239.52 101.50,238.79 102.00,241.35 102.50,240.57 103.00,240.20 103.50,240.11 104.00,240.85 104.50,240.30 105.00,240.18 105.50,238.04 106.00,240.16 106.50,242.13 107.00,239.00 107.50,239.20 108.00,240.59 108.50,240.78 109.00,239.97 109.50,237.38 110.00,239.42 110.50,237.58 111.00,237.88 111.50,239.46 112.00,238.70 112.50,240.28 113.00,242.97 113.50,240.21 114.00,239.34 114.50,237.18 115.00,237.05 115.50,236.54 116.00,236.94 116.50,236.29 117.00,236.72 117.50,237.13 118.00,236.01 118.50,235.24 119.00,235.45 119.50,237.63 120.00,237.50 120.50,238.65 121.00,238.56 121.50,236.92 122.00,237.58 122.50,235.65 123.00,239.86 123.50,238.82 124.00,236.62 124.50,235.38 125.00,236.78 125.50,234.30 126.00,235.55 126.50,237.55 127.00,236.82 127.50,236.19 128.00,237.57 128.50,235.45 129.00,236.64 129.50,235.76 130.00,235.37 130.50,236.79 131.00,235.69 131.50,238.79 132.00,236.58 132.50,238.97 133.00,235.79 133.50,237.18 134.00,235.17 134.50,234.98 135.00,237.02 135.50,237.66 136.00,235.71 136.50,238.24 137.00,236.32 137.50,237.27 138.00,237.83 138.50,237.78 139.00,235.38 139.50,239.22 140.00,238.33 140.50,236.87 141.00,235.90 141.50,235.08 142.00,235.82 142.50,238.27 143.00,237.42 143.50,236.44 144.00,237.54 144.50,240.11 145.00,238.08 145.50,237.85 146.00,240.24 146.50,239.45 147.00,238.74 147.50,237.75 148.00,236.58 148.50,237.12 149.00,238.22 149.50,238.87 150.00,239.78 150.50,240.09 151.00,239.71 151.50,239.44 152.00,237.67 152.50,236.27 153.00,238.11 153.50,237.89 154.00,238.28 154.50,238.66 155.00,237.51 155.50,237.70 156.00,239.07 156.50,239.40 157.00,238.66 157.50,239.89 158.00,239.04 158.50,238.08 159.00,239.64 159.50,241.76 160.00,239.11 160.50,241.09 161.00,241.71 161.50,241.51 162.00,239.04 162.50,241.97 163.00,239.96 163.50,239.17 164.00,239.29 164.50,240.28 165.00,239.69 165.50,239.56 166.00,241.06 166.50,238.68 167.00,238.25 167.50,240.55 168.00,240.84 168.50,240.96 169.00,238.62 169.50,240.92 170.00,240.75 170.50,241.79 171.00,238.39 171.50,239.68 172.00,239.08 172.50,237.46 173.00,238.69 173.50,240.95 174.00,239.18 174.50,238.86 175.00,240.90 175.50,241.38 176.00,241.14 176.50,239.03 177.00,239.91 177.50,241.19 178.00,239.25 178.50,239.16 179.00,241.36 179.50,242.16 180.00,238.59 180.50,236.50 181.00,237.86 181.50,238.67" fill="none" stroke="#f20a0a" stroke-width="2.4" stroke-linejoin="round"/>
<polyline points="76.50,239.63 77.00,240.50 77.50,239.50 78.00,238.77 78.50,239.61 79.00,238.42 79.50,239.34 80.00,239.30 80.50,243.31 81.00,241.10 81.50,238.51 82.00,238.08 82.50,238.58 83.00,237.21 83.50,238.22 84.00,238.66 84.50,240.60 85.00,239.06 85.50,238.22 86.00,237.44 86.50,237.75 87.00,239.24 87.50,239.48 88.00,240.94 88.50,239.12 89.00,240.91 89.50,240.09 90.00,239.22 90.50,236.60 91.00,237.56 91.50,240.54 92.00,241.57 92.50,240.18 93.00,240.49 93.50,239.02 94.00,238.79 94.50,238.70 95.00,240.73 95.50,240.06 96.00,239.15 96.50,239.07 97.00,240.19 97.50,239.82 98.00,238.68 98.50,241.63 99.00,240.08 99.50,239.74 100.00,241.58 100.50,241.03 101.00,239.56 101.50,239.89 102.00,237.92 102.50,237.90 103.00,236.43 103.50,240.24 104.00,237.14 104.50,239.76 105.00,238.16 105.50,237.82 106.00,238.93 106.50,239.75 107.00,240.50 107.50,241.86 108.00,240.26 108.50,240.43 109.00,238.76 109.50,240.15 110.00,239.52 110.50,238.55 111.00,238.83 111.50,238.88 112.00,239.16 112.50,239.22 113.00,237.89 113.50,237.58 114.00,238.99 114.50,236.06 115.00,237.36 115.50,239.59 116.00,234.52 116.50,236.60 117.00,238.30 117.50,236.07 118.00,240.31 118.50,234.74 119.00,239.12 119.50,239.79 120.00,238.64 120.50,237.07 121.00,237.38 121.50,236.07 122.00,237.75 122.50,235.58 123.00,236.57 123.50,238.01 124.00,235.50 124.50,236.19 125.00,236.73 125.50,235.22 126.00,238.13 126.50,237.11 127.00,234.69 127.50,236.16 128.00,235.44 128.50,235.56 129.00,236.39 129.50,235.74 130.00,237.51 130.50,235.92 131.00,237.75 131.50,236.88 132.00,237.70 132.50,236.04 133.00,235.76 133.50,235.26 134.00,237.58 134.50,238.64 135.00,240.19 135.50,239.15 136.00,237.56 136.50,236.91 137.00,237.60 137.50,237.47 138.00,239.35 138.50,238.64 139.00,236.23 139.50,236.53 140.00,239.17 140.50,238.12 141.00,237.55 141.50,239.16 142.00,237.42 142.50,237.34 143.00,236.93 143.50,235.49 144.00,238.73 144.50,236.67 145.00,237.21 145.50,237.45 146.00,239.35 146.50,238.65 147.00,238.41 147.50,236.53 148.00,238.20 148.50,237.04 149.00,239.29 149.50,239.72 150.00,239.68 150.50,242.12 151.00,240.47 151.50,240.22 152.00,239.57 152.50,239.25 153.00,240.78 153.50,240.75 154.00,237.98 154.50,240.62 155.00,240.42 155.50,240.84 156.00,239.95 156.50,237.59 157.00,237.92 157.50,241.69 158.00,239.83 158.50,237.63 159.00,239.58 159.50,238.68 160.00,236.49 160.50,235.75 161.00,236.95 161.50,239.54 162.00,239.43 162.50,239.21 163.00,239.95 163.50,239.99 164.00,236.75 164.50,238.60 165.00,238.15 165.50,237.64 166.00,238.58 166.50,239.26 167.00,238.94 167.50,237.50 168.00,239.05 168.50,242.04 169.00,238.26 169.50,237.22 170.00,239.81 170.50,240.58 171.00,240.19 171.50,238.43 172.00,240.67 172.50,238.60 173.00,237.91 173.50,238.66 174.00,239.59 174.50,240.78 175.00,240.70 175.50,240.04 176.00,241.10 176.50,240.33 177.00,240.90 177.50,237.98 178.00,237.81 178.50,240.60 179.00,238.36 179.50,239.52 180.00,239.98 180.50,239.55 181.00,239.91 181.50,242.45" fill="none" stroke="#f20a0a" stroke-width="2.4" stroke-linejoin="round"/>
<polyline points="76.50,250.97 77.00,251.87 77.50,252.36 78.00,252.15 78.50,251.96 79.00,252.06 79.50,251.97 80.00,251.57 80.50,251.40 81.00,251.47 81.50,251.56 82.00,251.56 82.50,251.46 83.00,251.25 83.50,251.06 84.00,250.89 84.50,250.82 85.00,250.83 85.50,250.79 86.00,250.85 86.50,251.00 87.00,250.80 87.50,250.59 88.00,250.64 88.50,250.63 89.00,250.62 89.50,250.59 90.00,250.52 90.50,250.38 91.00,250.28 91.50,250.40 92.00,250.32 92.50,249.91 93.00,249.82 93.50,249.82 94.00,249.63 94.50,249.77 95.00,250.19 95.50,250.39 96.00,250.44 96.50,250.27 97.00,250.04 97.50,250.02 98.00,250.11 98.50,250.12 99.00,249.96 99.50,249.81 100.00,249.85 100.50,249.77 101.00,249.31 101.50,248.68 102.00,248.33 102.50,248.16 103.00,247.85 103.50,247.50 104.00,247.25 104.50,247.22 105.00,247.29 105.50,247.21 106.00,247.01 106.50,246.85 107.00,246.70 107.50,246.55 108.00,245.98 108.50,245.06 109.00,244.07 109.50,243.42 110.00,243.45 110.50,243.67 111.00,243.53 111.50,243.08 112.00,242.71 112.50,242.16 113.00,241.35 113.50,240.60 114.00,240.31 114.50,240.19 115.00,239.87 115.50,239.04 116.00,238.19 116.50,237.62 117.00,237.01 117.50,236.24 118.00,235.06 118.50,233.65 119.00,231.94 119.50,230.29 120.00,229.10 120.50,227.44 121.00,225.38 121.50,222.97 122.00,220.59 122.50,218.36 123.00,215.98 123.50,213.16 124.00,210.55 124.50,208.00 125.00,204.97 125.50,201.76 126.00,198.86 126.50,196.41 127.00,194.12 127.50,191.62 128.00,189.47 128.50,187.52 129.00,185.73 129.50,185.63 130.00,187.87 130.50,190.22 131.00,192.55 131.50,194.94 132.00,197.56 132.50,200.35 133.00,202.87 133.50,205.30 134.00,208.08 134.50,211.10 135.00,214.03 135.50,216.85 136.00,219.22 136.50,221.39 137.00,223.35 137.50,225.30 138.00,227.43 138.50,229.67 139.00,231.18 139.50,232.45 140.00,233.63 140.50,234.67 141.00,235.51 141.50,236.39 142.00,237.52 142.50,238.53 143.00,239.32 143.50,239.93 144.00,240.46 144.50,240.87 145.00,240.99 145.50,240.97 146.00,241.15 146.50,241.45 147.00,241.81 147.50,242.38 148.00,242.89 148.50,243.29 149.00,243.79 149.50,244.06 150.00,244.29 150.50,244.68 151.00,245.20 151.50,245.76 152.00,246.31 152.50,246.79 153.00,246.99 153.50,246.97 154.00,246.86 154.50,246.89 155.00,247.21 155.50,247.69 156.00,248.24 156.50,248.75 157.00,249.20 157.50,249.41 158.00,249.34 158.50,249.25 159.00,249.28 159.50,249.40 160.00,249.40 160.50,249.38 161.00,249.72 161.50,250.00 162.00,249.72 162.50,249.31 163.00,249.12 163.50,249.28 164.00,249.70 164.50,249.97 165.00,250.27 165.50,250.74 166.00,250.81 166.50,250.54 167.00,250.56 167.50,250.70 168.00,250.75 168.50,250.82 169.00,251.02 169.50,251.30 170.00,251.40 170.50,251.48 171.00,251.66 171.50,251.65 172.00,251.50 172.50,251.50 173.00,251.54 173.50,251.26 174.00,250.82 174.50,250.49 175.00,250.35 175.50,250.34 176.00,250.41 176.50,250.28 177.00,250.07 177.50,250.25 178.00,250.47 178.50,250.37 179.00,250.27 179.50,250.24 180.00,249.92 180.50,249.58 181.00,249.57 181.50,249.77" fill="none" stroke="#1010d0" stroke-width="2.0" stroke-linejoin="round"/>
<line x1="76.5" y1="165.2" x2="76.5" y2="264.4" stroke="#000" stroke-width="1.2"/>
<line x1="75.9" y1="261.4" x2="185.0" y2="261.4" stroke="#000" stroke-width="1.2"/>
<line x1="73.2" y1="261.4" x2="76.5" y2="261.4" stroke="#000" stroke-width="1.1"/>
<text x="70.5" y="264.3" font-size="8" text-anchor="end" fill="#1a1a1a">0</text>
<line x1="73.2" y1="238.09999999999997" x2="76.5" y2="238.09999999999997" stroke="#000" stroke-width="1.1"/>
<text x="70.5" y="241.0" font-size="8" text-anchor="end" fill="#1a1a1a">1</text>
<line x1="73.2" y1="214.79999999999998" x2="76.5" y2="214.79999999999998" stroke="#000" stroke-width="1.1"/>
<text x="70.5" y="217.7" font-size="8" text-anchor="end" fill="#1a1a1a">2</text>
<line x1="73.2" y1="191.49999999999997" x2="76.5" y2="191.49999999999997" stroke="#000" stroke-width="1.1"/>
<text x="70.5" y="194.4" font-size="8" text-anchor="end" fill="#1a1a1a">3</text>
<line x1="73.2" y1="168.2" x2="76.5" y2="168.2" stroke="#000" stroke-width="1.1"/>
<text x="70.5" y="171.1" font-size="8" text-anchor="end" fill="#1a1a1a">4</text>
<line x1="76.5" y1="261.4" x2="76.5" y2="264.29999999999995" stroke="#000" stroke-width="1.1"/>
<text x="76.8" y="274.7" font-size="8" text-anchor="middle" fill="#1a1a1a">-5000</text>
<line x1="129.1" y1="261.4" x2="129.1" y2="264.29999999999995" stroke="#000" stroke-width="1.1"/>
<text x="129.4" y="274.7" font-size="8" text-anchor="middle" fill="#1a1a1a">0</text>
<line x1="181.7" y1="261.4" x2="181.7" y2="264.29999999999995" stroke="#000" stroke-width="1.1"/>
<text x="182.0" y="274.7" font-size="8" text-anchor="middle" fill="#1a1a1a">5000</text>
<text x="130.6" y="288.1" font-size="10" text-anchor="middle" textLength="75.8" lengthAdjust="spacingAndGlyphs" fill="#1a1a1a">Distance from DMC</text>
<text transform="translate(60.3,212.1) rotate(-90)" font-size="9" text-anchor="middle" textLength="65.9" lengthAdjust="spacingAndGlyphs" fill="#1a1a1a">ChIP-seq (RPM)</text>
<polyline points="231.50,242.46 232.00,242.53 232.50,240.95 233.00,238.89 233.50,239.33 234.00,239.22 234.50,239.88 235.00,238.13 235.50,240.58 236.00,241.53 236.50,240.63 237.00,241.07 237.50,239.11 238.00,238.27 238.50,239.66 239.00,242.32 239.50,242.19 240.00,240.39 240.50,242.15 241.00,240.66 241.50,242.75 242.00,241.47 242.50,240.20 243.00,241.47 243.50,239.46 244.00,238.84 244.50,238.40 245.00,240.65 245.50,240.52 246.00,240.37 246.50,240.24 247.00,242.42 247.50,240.09 248.00,239.69 248.50,242.43 249.00,242.84 249.50,240.95 250.00,238.04 250.50,239.47 251.00,241.28 251.50,240.96 252.00,242.45 252.50,239.02 253.00,241.09 253.50,240.01 254.00,242.24 254.50,240.85 255.00,241.81 255.50,239.51 256.00,238.17 256.50,238.54 257.00,239.22 257.50,239.15 258.00,242.23 258.50,242.64 259.00,240.91 259.50,239.04 260.00,239.97 260.50,239.75 261.00,242.43 261.50,241.27 262.00,241.12 262.50,239.59 263.00,237.39 263.50,238.76 264.00,238.79 264.50,240.76 265.00,240.48 265.50,239.18 266.00,239.89 266.50,242.17 267.00,238.92 267.50,238.56 268.00,239.38 268.50,238.83 269.00,239.24 269.50,240.80 270.00,241.93 270.50,237.18 271.00,238.64 271.50,238.66 272.00,238.11 272.50,237.54 273.00,237.19 273.50,238.41 274.00,236.29 274.50,236.14 275.00,236.04 275.50,235.79 276.00,235.27 276.50,236.19 277.00,234.54 277.50,234.07 278.00,233.12 278.50,231.28 279.00,230.81 279.50,230.28 280.00,231.32 280.50,229.73 281.00,228.83 281.50,230.41 282.00,230.39 282.50,227.65 283.00,231.53 283.50,229.59 284.00,229.08 284.50,230.27 285.00,228.73 285.50,227.90 286.00,231.45 286.50,227.93 287.00,229.22 287.50,230.73 288.00,228.76 288.50,230.22 289.00,231.83 289.50,234.50 290.00,230.77 290.50,231.98 291.00,233.53 291.50,233.12 292.00,232.03 292.50,234.51 293.00,234.97 293.50,236.03 294.00,237.55 294.50,237.91 295.00,237.53 295.50,237.24 296.00,235.66 296.50,237.04 297.00,237.84 297.50,237.36 298.00,238.00 298.50,237.48 299.00,240.98 299.50,242.05 300.00,238.97 300.50,239.52 301.00,239.10 301.50,240.97 302.00,240.05 302.50,239.38 303.00,238.99 303.50,239.25 304.00,238.09 304.50,240.01 305.00,238.65 305.50,240.10 306.00,239.99 306.50,241.06 307.00,239.88 307.50,240.76 308.00,238.51 308.50,240.14 309.00,239.34 309.50,239.74 310.00,239.81 310.50,240.45 311.00,236.89 311.50,239.28 312.00,237.68 312.50,240.54 313.00,236.76 313.50,237.39 314.00,237.26 314.50,241.24 315.00,238.02 315.50,239.31 316.00,238.42 316.50,236.80 317.00,238.81 317.50,240.33 318.00,239.54 318.50,240.72 319.00,239.17 319.50,239.37 320.00,239.02 320.50,240.27 321.00,242.31 321.50,240.41 322.00,239.72 322.50,238.52 323.00,238.60 323.50,241.20 324.00,238.04 324.50,237.98 325.00,239.11 325.50,239.25 326.00,241.72 326.50,236.61 327.00,239.69 327.50,240.36 328.00,237.93 328.50,238.46 329.00,240.29 329.50,241.70 330.00,238.21 330.50,237.24 331.00,240.75 331.50,241.61 332.00,238.69 332.50,236.34 333.00,240.78 333.50,239.35 334.00,240.63 334.50,239.12 335.00,238.37 335.50,238.51 336.00,241.15 336.50,240.73 337.00,235.88 337.50,237.35 338.00,240.94 338.50,238.20 339.00,236.34" fill="none" stroke="#f20a0a" stroke-width="2.4" stroke-linejoin="round"/>
<polyline points="231.50,240.65 232.00,240.49 232.50,240.41 233.00,239.91 233.50,240.04 234.00,240.01 234.50,240.87 235.00,239.52 235.50,240.05 236.00,240.62 236.50,242.49 237.00,241.37 237.50,240.64 238.00,241.42 238.50,241.49 239.00,242.30 239.50,241.86 240.00,243.45 240.50,242.80 241.00,240.72 241.50,240.18 242.00,241.84 242.50,241.45 243.00,240.27 243.50,238.16 244.00,237.81 244.50,240.86 245.00,241.86 245.50,241.59 246.00,239.12 246.50,241.66 247.00,240.08 247.50,241.07 248.00,241.05 248.50,239.39 249.00,239.18 249.50,237.37 250.00,238.53 250.50,237.93 251.00,240.81 251.50,240.86 252.00,241.87 252.50,241.07 253.00,239.76 253.50,240.80 254.00,240.14 254.50,241.34 255.00,240.87 255.50,239.18 256.00,240.32 256.50,240.51 257.00,240.24 257.50,241.99 258.00,242.96 258.50,240.22 259.00,239.49 259.50,237.25 260.00,239.78 260.50,239.42 261.00,237.42 261.50,240.56 262.00,241.19 262.50,239.47 263.00,239.61 263.50,239.17 264.00,241.03 264.50,238.41 265.00,240.08 265.50,243.03 266.00,240.82 266.50,240.85 267.00,239.81 267.50,238.41 268.00,239.82 268.50,240.31 269.00,238.59 269.50,240.32 270.00,241.73 270.50,240.79 271.00,236.81 271.50,236.67 272.00,236.03 272.50,239.19 273.00,238.70 273.50,238.08 274.00,235.47 274.50,234.64 275.00,235.95 275.50,235.67 276.00,234.16 276.50,234.97 277.00,235.29 277.50,234.08 278.00,231.54 278.50,229.67 279.00,231.64 279.50,232.01 280.00,230.98 280.50,230.13 281.00,229.50 281.50,231.03 282.00,230.03 282.50,229.69 283.00,228.03 283.50,228.23 284.00,228.93 284.50,227.17 285.00,226.54 285.50,227.84 286.00,230.32 286.50,229.81 287.00,231.45 287.50,229.80 288.00,229.41 288.50,228.38 289.00,230.06 289.50,233.16 290.00,232.44 290.50,233.30 291.00,233.72 291.50,233.20 292.00,233.36 292.50,234.39 293.00,235.70 293.50,236.02 294.00,236.48 294.50,236.35 295.00,235.61 295.50,236.25 296.00,236.00 296.50,238.23 297.00,234.86 297.50,237.62 298.00,241.32 298.50,238.09 299.00,236.92 299.50,238.80 300.00,240.79 300.50,239.21 301.00,239.95 301.50,239.33 302.00,239.28 302.50,243.56 303.00,239.86 303.50,238.48 304.00,238.63 304.50,239.90 305.00,240.21 305.50,240.64 306.00,239.57 306.50,237.63 307.00,239.91 307.50,239.11 308.00,238.76 308.50,237.27 309.00,238.28 309.50,238.37 310.00,239.04 310.50,237.48 311.00,239.32 311.50,239.47 312.00,237.84 312.50,238.26 313.00,238.36 313.50,240.12 314.00,236.08 314.50,238.23 315.00,237.04 315.50,238.74 316.00,240.48 316.50,238.81 317.00,239.41 317.50,238.71 318.00,242.21 318.50,241.35 319.00,240.99 319.50,237.65 320.00,237.92 320.50,240.76 321.00,239.38 321.50,239.17 322.00,239.68 322.50,237.96 323.00,240.34 323.50,239.76 324.00,240.04 324.50,238.75 325.00,239.95 325.50,238.79 326.00,240.91 326.50,241.42 327.00,241.08 327.50,240.51 328.00,239.97 328.50,236.01 329.00,240.10 329.50,239.29 330.00,239.52 330.50,238.81 331.00,237.31 331.50,238.46 332.00,240.38 332.50,241.22 333.00,238.42 333.50,238.04 334.00,240.78 334.50,238.48 335.00,241.72 335.50,239.24 336.00,237.86 336.50,240.36 337.00,241.06 337.50,237.35 338.00,240.54 338.50,238.82 339.00,240.88" fill="none" stroke="#f20a0a" stroke-width="2.4" stroke-linejoin="round"/>
<polyline points="231.50,239.84 232.00,238.66 232.50,241.19 233.00,242.29 233.50,243.80 234.00,243.34 234.50,241.79 235.00,240.36 235.50,239.88 236.00,240.02 236.50,239.46 237.00,239.69 237.50,237.34 238.00,240.40 238.50,241.05 239.00,244.03 239.50,241.94 240.00,240.22 240.50,241.03 241.00,239.02 241.50,239.29 242.00,238.34 242.50,242.21 243.00,241.39 243.50,239.17 244.00,240.46 244.50,241.87 245.00,241.43 245.50,240.99 246.00,239.42 246.50,239.61 247.00,240.73 247.50,241.60 248.00,239.45 248.50,239.16 249.00,241.65 249.50,239.73 250.00,241.80 250.50,241.18 251.00,242.00 251.50,243.03 252.00,241.84 252.50,241.47 253.00,239.35 253.50,239.57 254.00,241.48 254.50,242.82 255.00,242.95 255.50,243.76 256.00,241.33 256.50,240.98 257.00,241.81 257.50,240.67 258.00,240.22 258.50,239.29 259.00,241.37 259.50,239.35 260.00,240.69 260.50,238.92 261.00,241.44 261.50,239.47 262.00,241.08 262.50,238.48 263.00,239.81 263.50,241.73 264.00,239.62 264.50,240.30 265.00,239.43 265.50,237.37 266.00,240.36 266.50,240.63 267.00,238.90 267.50,240.49 268.00,238.92 268.50,238.52 269.00,239.59 269.50,239.33 270.00,242.28 270.50,237.89 271.00,239.84 271.50,239.68 272.00,235.59 272.50,235.42 273.00,237.85 273.50,236.70 274.00,237.39 274.50,237.87 275.00,235.58 275.50,233.77 276.00,231.66 276.50,234.44 277.00,233.22 277.50,234.12 278.00,233.46 278.50,231.42 279.00,234.53 279.50,233.71 280.00,232.46 280.50,229.46 281.00,229.59 281.50,229.33 282.00,229.12 282.50,228.27 283.00,229.88 283.50,229.68 284.00,229.43 284.50,228.42 285.00,230.15 285.50,228.30 286.00,225.09 286.50,227.73 287.00,229.38 287.50,230.94 288.00,229.86 288.50,230.00 289.00,230.07 289.50,231.87 290.00,231.01 290.50,231.11 291.00,231.64 291.50,233.61 292.00,232.75 292.50,232.01 293.00,235.04 293.50,234.43 294.00,236.08 294.50,236.94 295.00,238.49 295.50,238.38 296.00,236.58 296.50,236.87 297.00,236.24 297.50,239.87 298.00,239.20 298.50,240.14 299.00,238.04 299.50,236.38 300.00,240.66 300.50,239.48 301.00,239.31 301.50,239.35 302.00,240.12 302.50,239.75 303.00,237.51 303.50,240.33 304.00,238.77 304.50,238.99 305.00,241.71 305.50,240.88 306.00,238.90 306.50,237.09 307.00,239.48 307.50,240.20 308.00,239.27 308.50,237.75 309.00,238.05 309.50,237.79 310.00,239.70 310.50,240.76 311.00,240.83 311.50,238.78 312.00,239.77 312.50,240.16 313.00,238.91 313.50,239.59 314.00,242.23 314.50,240.28 315.00,240.59 315.50,239.10 316.00,239.18 316.50,237.30 317.00,239.38 317.50,241.39 318.00,242.60 318.50,241.52 319.00,240.60 319.50,239.58 320.00,238.71 320.50,239.29 321.00,240.12 321.50,238.76 322.00,240.39 322.50,238.09 323.00,236.87 323.50,237.60 324.00,236.95 324.50,237.65 325.00,240.68 325.50,239.48 326.00,239.95 326.50,241.24 327.00,241.23 327.50,239.30 328.00,241.18 328.50,240.22 329.00,239.65 329.50,239.82 330.00,237.61 330.50,238.17 331.00,239.23 331.50,240.04 332.00,238.90 332.50,239.19 333.00,240.66 333.50,241.25 334.00,240.54 334.50,240.73 335.00,238.64 335.50,238.53 336.00,239.19 336.50,238.42 337.00,238.37 337.50,240.73 338.00,238.55 338.50,237.45 339.00,239.13" fill="none" stroke="#f20a0a" stroke-width="2.4" stroke-linejoin="round"/>
<polyline points="231.50,248.12 232.00,247.80 232.50,247.52 233.00,247.16 233.50,246.88 234.00,246.88 234.50,247.15 235.00,247.32 235.50,247.23 236.00,247.11 236.50,246.91 237.00,246.92 237.50,247.12 238.00,247.09 238.50,246.76 239.00,246.46 239.50,246.52 240.00,246.85 240.50,247.14 241.00,246.95 241.50,246.52 242.00,246.18 242.50,246.07 243.00,246.20 243.50,246.46 244.00,246.53 244.50,246.41 245.00,246.25 245.50,246.27 246.00,246.26 246.50,245.90 247.00,245.66 247.50,245.73 248.00,245.79 248.50,245.93 249.00,246.08 249.50,246.07 250.00,246.09 250.50,246.21 251.00,246.42 251.50,246.35 252.00,245.94 252.50,245.62 253.00,245.63 253.50,245.88 254.00,245.97 254.50,245.83 255.00,245.74 255.50,245.53 256.00,245.43 256.50,245.77 257.00,246.33 257.50,246.45 258.00,246.28 258.50,246.19 259.00,246.10 259.50,246.02 260.00,246.40 260.50,246.80 261.00,246.71 261.50,246.57 262.00,246.48 262.50,246.22 263.00,246.16 263.50,246.17 264.00,245.97 264.50,245.66 265.00,245.40 265.50,245.29 266.00,245.31 266.50,245.29 267.00,244.89 267.50,244.16 268.00,243.55 268.50,243.43 269.00,243.09 269.50,242.23 270.00,241.48 270.50,241.26 271.00,241.13 271.50,240.70 272.00,240.34 272.50,240.20 273.00,239.92 273.50,239.19 274.00,238.07 274.50,237.20 275.00,236.49 275.50,235.42 276.00,233.92 276.50,232.43 277.00,230.67 277.50,228.84 278.00,226.82 278.50,224.20 279.00,221.25 279.50,218.21 280.00,215.06 280.50,211.08 281.00,206.62 281.50,202.53 282.00,198.94 282.50,195.32 283.00,191.93 283.50,188.85 284.00,186.30 284.50,183.93 285.00,182.09 285.50,182.16 286.00,184.26 286.50,186.28 287.00,188.14 287.50,190.61 288.00,193.32 288.50,196.21 289.00,199.36 289.50,203.36 290.00,207.88 290.50,212.13 291.00,215.76 291.50,219.12 292.00,222.26 292.50,225.26 293.00,227.42 293.50,229.33 294.00,231.38 294.50,233.16 295.00,234.43 295.50,235.59 296.00,236.63 296.50,237.59 297.00,238.55 297.50,239.24 298.00,239.79 298.50,240.36 299.00,240.94 299.50,241.28 300.00,241.45 300.50,241.92 301.00,242.79 301.50,243.70 302.00,244.45 302.50,244.99 303.00,245.19 303.50,245.09 304.00,244.84 304.50,244.65 305.00,244.74 305.50,245.10 306.00,245.49 306.50,245.67 307.00,245.72 307.50,245.82 308.00,245.98 308.50,246.06 309.00,246.07 309.50,245.97 310.00,245.81 310.50,245.85 311.00,246.14 311.50,246.30 312.00,246.34 312.50,246.56 313.00,246.77 313.50,246.58 314.00,246.40 314.50,246.32 315.00,246.33 315.50,246.69 316.00,247.11 316.50,247.17 317.00,247.01 317.50,246.87 318.00,246.81 318.50,246.74 319.00,246.56 319.50,246.46 320.00,246.61 320.50,246.79 321.00,246.75 321.50,246.50 322.00,246.42 322.50,246.95 323.00,247.41 323.50,247.23 324.00,246.73 324.50,246.48 325.00,246.52 325.50,246.65 326.00,246.86 326.50,247.09 327.00,247.32 327.50,247.22 328.00,246.88 328.50,246.81 329.00,246.77 329.50,246.73 330.00,246.96 330.50,247.33 331.00,247.52 331.50,247.63 332.00,248.09 332.50,248.48 333.00,248.40 333.50,248.13 334.00,247.76 334.50,247.48 335.00,247.53 335.50,247.69 336.00,247.87 336.50,247.92 337.00,247.58 337.50,247.16 338.00,246.67 338.50,245.95 339.00,245.42" fill="none" stroke="#1010d0" stroke-width="2.0" stroke-linejoin="round"/>
<line x1="231.5" y1="165.2" x2="231.5" y2="264.4" stroke="#000" stroke-width="1.2"/>
<line x1="230.9" y1="261.4" x2="342.3" y2="261.4" stroke="#000" stroke-width="1.2"/>
<line x1="228.2" y1="261.4" x2="231.5" y2="261.4" stroke="#000" stroke-width="1.1"/>
<text x="225.5" y="264.3" font-size="8" text-anchor="end" fill="#1a1a1a">0</text>
<line x1="228.2" y1="238.09999999999997" x2="231.5" y2="238.09999999999997" stroke="#000" stroke-width="1.1"/>
<text x="225.5" y="241.0" font-size="8" text-anchor="end" fill="#1a1a1a">1</text>
<line x1="228.2" y1="214.79999999999998" x2="231.5" y2="214.79999999999998" stroke="#000" stroke-width="1.1"/>
<text x="225.5" y="217.7" font-size="8" text-anchor="end" fill="#1a1a1a">2</text>
<line x1="228.2" y1="191.49999999999997" x2="231.5" y2="191.49999999999997" stroke="#000" stroke-width="1.1"/>
<text x="225.5" y="194.4" font-size="8" text-anchor="end" fill="#1a1a1a">3</text>
<line x1="228.2" y1="168.2" x2="231.5" y2="168.2" stroke="#000" stroke-width="1.1"/>
<text x="225.5" y="171.1" font-size="8" text-anchor="end" fill="#1a1a1a">4</text>
<line x1="231.5" y1="261.4" x2="231.5" y2="264.29999999999995" stroke="#000" stroke-width="1.1"/>
<text x="231.8" y="274.7" font-size="8" text-anchor="middle" fill="#1a1a1a">-5000</text>
<line x1="285.35" y1="261.4" x2="285.35" y2="264.29999999999995" stroke="#000" stroke-width="1.1"/>
<text x="285.65" y="274.7" font-size="8" text-anchor="middle" fill="#1a1a1a">0</text>
<line x1="339.2" y1="261.4" x2="339.2" y2="264.29999999999995" stroke="#000" stroke-width="1.1"/>
<text x="339.5" y="274.7" font-size="8" text-anchor="middle" fill="#1a1a1a">5000</text>
<text x="286.85" y="288.1" font-size="10" text-anchor="middle" textLength="75.8" lengthAdjust="spacingAndGlyphs" fill="#1a1a1a">Distance from DMC</text>
<text transform="translate(215.3,212.1) rotate(-90)" font-size="9" text-anchor="middle" textLength="65.9" lengthAdjust="spacingAndGlyphs" fill="#1a1a1a">ChIP-seq (RPM)</text>
<polyline points="397.20,229.66 398.60,228.25 400.00,235.13 401.40,230.02 402.80,240.53 404.20,239.43 405.60,235.56 407.00,229.65 408.40,234.77 409.80,235.74 411.20,226.16 412.60,233.38 414.00,235.22 415.40,232.75 416.80,239.67 418.20,237.83 419.60,227.40 421.00,232.20 422.40,227.33 423.80,234.53 425.20,227.19 426.60,236.32 428.00,233.62 429.40,236.57 430.80,230.83 432.20,223.67 433.60,241.60 435.00,230.65 436.40,240.04 437.80,234.38 439.20,236.08 440.60,244.04 442.00,234.07 443.40,241.38 444.80,221.26 446.20,237.65 447.60,229.92 449.00,230.65 450.40,231.67 451.80,234.07 453.20,243.17 454.60,218.66 456.00,231.84 457.40,226.72 458.80,239.37 460.20,228.87 461.60,234.49 463.00,229.15 464.40,235.66 465.80,237.60 467.20,229.34 468.60,231.84 470.00,223.55 471.40,233.32 472.80,236.47 474.20,228.47 475.60,237.94 477.00,219.71 478.40,220.90 479.80,223.57 481.20,228.78 482.60,231.69 484.00,231.14 485.40,231.22 486.80,235.78 488.20,228.84 489.60,224.21 491.00,224.37 492.40,243.86 493.80,217.88 495.20,230.54 496.60,240.17 498.00,234.46 499.40,226.72 500.80,231.61 502.20,236.74 503.60,238.80" fill="none" stroke="#f20a0a" stroke-width="2.2" stroke-linejoin="round"/>
<polyline points="397.20,227.34 398.60,235.19 400.00,232.83 401.40,236.86 402.80,238.20 404.20,229.97 405.60,224.74 407.00,233.48 408.40,240.03 409.80,234.88 411.20,232.74 412.60,242.95 414.00,226.73 415.40,235.84 416.80,228.92 418.20,231.82 419.60,232.05 421.00,238.75 422.40,227.18 423.80,229.02 425.20,224.06 426.60,233.87 428.00,229.45 429.40,233.57 430.80,226.39 432.20,229.78 433.60,237.05 435.00,230.68 436.40,235.15 437.80,234.70 439.20,229.43 440.60,221.83 442.00,237.95 443.40,232.75 444.80,237.92 446.20,218.54 447.60,220.77 449.00,217.65 450.40,225.89 451.80,238.34 453.20,235.29 454.60,231.39 456.00,232.47 457.40,236.41 458.80,229.76 460.20,233.99 461.60,232.38 463.00,219.01 464.40,229.42 465.80,239.00 467.20,229.52 468.60,230.83 470.00,228.40 471.40,229.06 472.80,237.50 474.20,230.19 475.60,226.13 477.00,215.09 478.40,228.46 479.80,221.10 481.20,221.86 482.60,235.82 484.00,235.36 485.40,221.37 486.80,236.13 488.20,234.07 489.60,227.41 491.00,235.51 492.40,222.80 493.80,225.02 495.20,223.75 496.60,225.55 498.00,236.33 499.40,224.32 500.80,225.26 502.20,226.37 503.60,232.65" fill="none" stroke="#f20a0a" stroke-width="2.2" stroke-linejoin="round"/>
<polyline points="397.20,229.36 398.60,237.30 400.00,226.87 401.40,223.01 402.80,228.22 404.20,231.79 405.60,225.41 407.00,233.44 408.40,243.61 409.80,227.74 411.20,231.86 412.60,240.50 414.00,227.24 415.40,225.86 416.80,224.25 418.20,234.14 419.60,234.93 421.00,230.53 422.40,231.80 423.80,239.96 425.20,237.23 426.60,222.19 428.00,231.37 429.40,232.17 430.80,236.34 432.20,229.85 433.60,226.64 435.00,227.83 436.40,217.26 437.80,231.09 439.20,226.30 440.60,235.40 442.00,222.01 443.40,227.29 444.80,222.38 446.20,221.62 447.60,237.60 449.00,227.11 450.40,235.27 451.80,221.13 453.20,232.06 454.60,215.91 456.00,226.84 457.40,226.80 458.80,236.30 460.20,232.80 461.60,229.85 463.00,238.02 464.40,232.82 465.80,235.42 467.20,237.01 468.60,230.81 470.00,229.13 471.40,233.67 472.80,228.22 474.20,234.16 475.60,239.51 477.00,237.62 478.40,228.42 479.80,221.69 481.20,230.80 482.60,230.35 484.00,239.51 485.40,228.41 486.80,229.69 488.20,236.76 489.60,227.67 491.00,230.08 492.40,244.24 493.80,242.59 495.20,236.07 496.60,233.27 498.00,223.88 499.40,235.47 500.80,231.70 502.20,232.91 503.60,227.25" fill="none" stroke="#f20a0a" stroke-width="2.2" stroke-linejoin="round"/>
<polyline points="397.20,231.26 398.60,230.31 400.00,233.12 401.40,239.32 402.80,233.35 404.20,222.05 405.60,225.84 407.00,222.44 408.40,226.88 409.80,234.44 411.20,233.57 412.60,228.00 414.00,232.79 415.40,227.07 416.80,223.35 418.20,223.42 419.60,226.53 421.00,239.22 422.40,223.89 423.80,238.27 425.20,238.77 426.60,230.33 428.00,231.03 429.40,227.89 430.80,231.17 432.20,235.22 433.60,231.38 435.00,237.73 436.40,239.22 437.80,233.66 439.20,233.58 440.60,230.78 442.00,233.82 443.40,222.71 444.80,234.28 446.20,232.76 447.60,224.68 449.00,247.60 450.40,223.81 451.80,224.53 453.20,233.24 454.60,216.37 456.00,225.04 457.40,219.76 458.80,224.11 460.20,230.26 461.60,233.48 463.00,238.76 464.40,236.64 465.80,238.92 467.20,234.97 468.60,228.41 470.00,238.15 471.40,228.25 472.80,227.47 474.20,240.79 475.60,236.22 477.00,232.66 478.40,235.99 479.80,236.75 481.20,222.70 482.60,230.60 484.00,223.81 485.40,231.98 486.80,227.03 488.20,239.86 489.60,234.55 491.00,226.09 492.40,231.08 493.80,223.50 495.20,231.48 496.60,234.76 498.00,232.90 499.40,218.81 500.80,229.04 502.20,234.52 503.60,233.23" fill="none" stroke="#f20a0a" stroke-width="2.2" stroke-linejoin="round"/>
<polyline points="397.20,237.23 398.60,224.78 400.00,233.94 401.40,228.00 402.80,232.30 404.20,233.40 405.60,234.81 407.00,228.38 408.40,232.22 409.80,225.31 411.20,224.09 412.60,234.11 414.00,231.00 415.40,223.02 416.80,226.93 418.20,231.41 419.60,239.27 421.00,236.69 422.40,235.36 423.80,222.19 425.20,230.78 426.60,233.74 428.00,233.33 429.40,233.43 430.80,230.11 432.20,240.89 433.60,239.68 435.00,230.71 436.40,225.30 437.80,244.19 439.20,227.67 440.60,239.34 442.00,244.54 443.40,224.65 444.80,233.18 446.20,228.78 447.60,234.79 449.00,233.49 450.40,244.81 451.80,235.36 453.20,231.17 454.60,239.05 456.00,229.31 457.40,228.75 458.80,246.12 460.20,225.90 461.60,228.09 463.00,231.47 464.40,224.80 465.80,218.82 467.20,237.25 468.60,226.84 470.00,228.17 471.40,229.12 472.80,225.65 474.20,225.13 475.60,232.21 477.00,244.98 478.40,235.55 479.80,235.53 481.20,222.62 482.60,231.06 484.00,224.45 485.40,235.69 486.80,229.95 488.20,231.47 489.60,230.73 491.00,227.82 492.40,222.38 493.80,234.57 495.20,223.14 496.60,224.29 498.00,229.46 499.40,227.09 500.80,232.80 502.20,237.23 503.60,232.75" fill="none" stroke="#f20a0a" stroke-width="2.2" stroke-linejoin="round"/>
<polyline points="397.20,232.23 398.60,231.45 400.00,235.21 401.40,222.92 402.80,232.95 404.20,227.05 405.60,225.68 407.00,231.32 408.40,229.57 409.80,234.00 411.20,236.32 412.60,220.73 414.00,230.99 415.40,240.28 416.80,235.35 418.20,237.95 419.60,231.79 421.00,224.76 422.40,226.18 423.80,234.57 425.20,235.70 426.60,228.00 428.00,230.09 429.40,232.49 430.80,223.13 432.20,229.60 433.60,239.54 435.00,242.82 436.40,230.77 437.80,241.61 439.20,228.20 440.60,226.27 442.00,217.25 443.40,237.14 444.80,228.97 446.20,245.84 447.60,233.36 449.00,232.37 450.40,219.99 451.80,240.55 453.20,229.00 454.60,230.16 456.00,217.47 457.40,236.87 458.80,237.16 460.20,227.75 461.60,231.79 463.00,233.48 464.40,236.50 465.80,231.90 467.20,240.13 468.60,230.11 470.00,228.23 471.40,228.88 472.80,218.40 474.20,227.17 475.60,236.43 477.00,232.67 478.40,227.14 479.80,233.05 481.20,220.95 482.60,229.82 484.00,234.03 485.40,234.91 486.80,227.34 488.20,236.06 489.60,241.03 491.00,229.15 492.40,235.13 493.80,223.16 495.20,221.04 496.60,234.48 498.00,231.56 499.40,232.35 500.80,228.24 502.20,229.77 503.60,235.61" fill="none" stroke="#f20a0a" stroke-width="2.2" stroke-linejoin="round"/>
<polyline points="397.20,240.00 398.60,230.24 400.00,223.06 401.40,237.72 402.80,234.40 404.20,234.78 405.60,232.31 407.00,243.02 408.40,231.77 409.80,233.89 411.20,222.02 412.60,228.38 414.00,227.87 415.40,231.18 416.80,233.07 418.20,227.61 419.60,240.01 421.00,226.01 422.40,229.06 423.80,232.50 425.20,225.06 426.60,234.20 428.00,234.53 429.40,229.92 430.80,241.17 432.20,231.81 433.60,232.86 435.00,225.70 436.40,221.17 437.80,227.29 439.20,229.16 440.60,228.23 442.00,236.46 443.40,214.81 444.80,223.33 446.20,218.68 447.60,240.41 449.00,227.38 450.40,227.66 451.80,223.67 453.20,237.40 454.60,228.44 456.00,232.71 457.40,217.60 458.80,238.92 460.20,233.85 461.60,234.78 463.00,238.85 464.40,230.17 465.80,230.35 467.20,235.38 468.60,233.70 470.00,229.96 471.40,231.55 472.80,228.51 474.20,235.34 475.60,236.58 477.00,231.41 478.40,241.88 479.80,222.66 481.20,230.00 482.60,241.01 484.00,228.93 485.40,222.23 486.80,239.26 488.20,234.44 489.60,224.51 491.00,235.72 492.40,225.43 493.80,223.58 495.20,230.40 496.60,228.51 498.00,224.95 499.40,229.15 500.80,225.48 502.20,231.64 503.60,231.19" fill="none" stroke="#f20a0a" stroke-width="2.2" stroke-linejoin="round"/>
<polyline points="397.20,234.87 398.60,229.23 400.00,225.11 401.40,225.17 402.80,230.23 404.20,238.58 405.60,235.37 407.00,228.40 408.40,235.75 409.80,225.98 411.20,236.09 412.60,229.61 414.00,234.98 415.40,234.30 416.80,230.10 418.20,232.89 419.60,226.38 421.00,231.03 422.40,236.52 423.80,250.60 425.20,234.75 426.60,231.78 428.00,226.66 429.40,236.29 430.80,223.43 432.20,227.33 433.60,233.18 435.00,224.87 436.40,239.97 437.80,237.70 439.20,227.92 440.60,227.82 442.00,222.80 443.40,222.30 444.80,234.12 446.20,235.32 447.60,233.58 449.00,233.00 450.40,227.72 451.80,233.56 453.20,221.87 454.60,231.35 456.00,240.79 457.40,239.63 458.80,228.50 460.20,229.34 461.60,239.41 463.00,241.51 464.40,223.06 465.80,229.02 467.20,232.60 468.60,237.67 470.00,227.04 471.40,234.68 472.80,229.85 474.20,243.77 475.60,233.65 477.00,230.65 478.40,229.62 479.80,236.92 481.20,234.94 482.60,225.66 484.00,232.46 485.40,224.25 486.80,227.29 488.20,224.42 489.60,224.25 491.00,227.64 492.40,226.11 493.80,234.18 495.20,235.64 496.60,230.06 498.00,225.33 499.40,235.63 500.80,220.38 502.20,220.86 503.60,235.28" fill="none" stroke="#f20a0a" stroke-width="2.2" stroke-linejoin="round"/>
<polyline points="396.50,232.67 398.10,235.39 399.70,236.68 401.30,239.02 402.90,243.52 404.50,235.42 406.10,230.68 407.70,234.77 409.30,238.39 410.90,243.48 412.50,244.20 414.10,238.12 415.70,239.38 417.30,246.69 418.90,247.25 420.50,246.11 422.10,243.03 423.70,243.43 425.30,238.97 426.90,237.88 428.50,237.83 430.10,237.60 431.70,235.17 433.30,241.57 434.90,241.98 436.50,236.50 438.10,234.71 439.70,232.76 441.30,225.56 442.90,218.19 444.50,206.58 446.10,195.40 447.70,188.58 449.30,189.22 450.90,190.87 452.50,198.95 454.10,208.72 455.70,211.04 457.30,224.62 458.90,232.95 460.50,239.47 462.10,239.20 463.70,238.05 465.30,238.15 466.90,236.74 468.50,237.48 470.10,237.65 471.70,239.40 473.30,237.45 474.90,234.39 476.50,236.75 478.10,241.11 479.70,242.49 481.30,238.95 482.90,237.67 484.50,232.29 486.10,237.33 487.70,238.23 489.30,238.46 490.90,238.32 492.50,236.30 494.10,234.03 495.70,231.94 497.30,225.65 498.90,231.45 500.50,232.18 502.10,237.20" fill="none" stroke="#1010d0" stroke-width="2.0" stroke-linejoin="round"/>
<line x1="396.3" y1="165.29999999999998" x2="396.3" y2="264.5" stroke="#000" stroke-width="1.3"/>
<line x1="395.4" y1="261.5" x2="506.5" y2="261.5" stroke="#000" stroke-width="1.2"/>
<line x1="392.7" y1="261.5" x2="396.0" y2="261.5" stroke="#000" stroke-width="1.1"/>
<text x="388.8" y="264.4" font-size="8" text-anchor="end" fill="#1a1a1a">0.6</text>
<line x1="392.7" y1="230.43333333333334" x2="396.0" y2="230.43333333333334" stroke="#000" stroke-width="1.1"/>
<text x="388.8" y="233.33" font-size="8" text-anchor="end" fill="#1a1a1a">1.0</text>
<line x1="392.7" y1="199.36666666666667" x2="396.0" y2="199.36666666666667" stroke="#000" stroke-width="1.1"/>
<text x="388.8" y="202.27" font-size="8" text-anchor="end" fill="#1a1a1a">1.4</text>
<line x1="392.7" y1="168.29999999999998" x2="396.0" y2="168.29999999999998" stroke="#000" stroke-width="1.1"/>
<text x="388.8" y="171.2" font-size="8" text-anchor="end" fill="#1a1a1a">1.8</text>
<line x1="396.0" y1="261.5" x2="396.0" y2="264.4" stroke="#000" stroke-width="1.1"/>
<text x="396.3" y="274.7" font-size="8" text-anchor="middle" fill="#1a1a1a">-5000</text>
<line x1="449.8" y1="261.5" x2="449.8" y2="264.4" stroke="#000" stroke-width="1.1"/>
<text x="450.1" y="274.7" font-size="8" text-anchor="middle" fill="#1a1a1a">0</text>
<line x1="503.6" y1="261.5" x2="503.6" y2="264.4" stroke="#000" stroke-width="1.1"/>
<text x="503.9" y="274.7" font-size="8" text-anchor="middle" fill="#1a1a1a">5000</text>
<text x="451.3" y="288.1" font-size="10" text-anchor="middle" textLength="75.8" lengthAdjust="spacingAndGlyphs" fill="#1a1a1a">Distance from DMC</text>
<text transform="translate(371.9,212.1) rotate(-90)" font-size="9" text-anchor="middle" textLength="65.9" lengthAdjust="spacingAndGlyphs" fill="#1a1a1a">ChIP-seq (RPM)</text>
<text x="7.5" y="16.9" font-size="11.5" textLength="7.7" lengthAdjust="spacingAndGlyphs" font-weight="bold" fill="#000">A</text>
<text x="7.8" y="73.6" font-size="9.4" textLength="36.6" lengthAdjust="spacingAndGlyphs" fill="#1a1a1a">Proximal</text>
<text x="7.8" y="217.8" font-size="9.4" textLength="23.4" lengthAdjust="spacingAndGlyphs" fill="#1a1a1a">Distal</text>
<text x="7.8" y="316.8" font-size="12" textLength="7.5" lengthAdjust="spacingAndGlyphs" font-weight="bold" fill="#000">B</text>
<text x="306.5" y="316.5" font-size="9.7" text-anchor="middle" textLength="122.7" lengthAdjust="spacingAndGlyphs" fill="#1a1a1a">chr3:50,478,453-50,612,256</text>
<path d="M106.3,329.5 V321.8 H507 V329.5" fill="none" stroke="#000" stroke-width="1.15" stroke-dasharray="1.1,1.2"/>
<text x="239.3" y="333.0" font-size="8" textLength="43.1" lengthAdjust="spacingAndGlyphs" fill="#1a1a1a">CACNA2D2</text>
<path d="M297.3,344.5 V330.3 H290" fill="none" stroke="#000" stroke-width="1.6"/>
<path d="M284.5,330.3 L295.3,326.4 L292.8,330.3 L295.3,334.2 Z" fill="#000"/>
<rect x="106.0" y="344.6" width="192.8" height="4.0" fill="#0a0ab4"/>
<rect x="298.8" y="344.6" width="166.0" height="4.0" fill="#a8a8f0"/>
<rect x="464.8" y="344.6" width="34.19999999999999" height="4.0" fill="#0a14b4"/>
<rect x="499" y="344.6" width="8.399999999999977" height="4.0" fill="#e21c2a"/>
<rect x="106.0" y="351.6" width="192.8" height="4.2" fill="#d4d4f2"/>
<rect x="106.0" y="353.2" width="187.0" height="1.6" fill="#7c7cbc"/>
<rect x="293" y="352.3" width="2.6" height="3.2" fill="#1a1aa8"/>
<rect x="295.9" y="352.6" width="0.8" height="2.6" fill="#1a1aa8"/>
<rect x="298.8" y="351.8" width="166.0" height="4.2" fill="#dcdcf8"/>
<rect x="464.8" y="353.6" width="34.599999999999966" height="0.9" fill="#2a2ab4"/>
<rect x="464.8" y="352.4" width="5.300000000000011" height="3.3" fill="#1212b0"/>
<rect x="472.5" y="352.4" width="1.5" height="3.3" fill="#1212b0"/>
<rect x="475.3" y="352.4" width="1.3000000000000114" height="3.3" fill="#1212b0"/>
<rect x="478" y="352.4" width="2" height="3.3" fill="#1212b0"/>
<rect x="487.9" y="352.4" width="1.400000000000034" height="3.3" fill="#1212b0"/>
<rect x="491.7" y="352.4" width="1.400000000000034" height="3.3" fill="#1212b0"/>
<rect x="494.6" y="352.4" width="1.3999999999999773" height="3.3" fill="#1212b0"/>
<rect x="499.4" y="352.4" width="8.0" height="3.3" fill="#e21c2a"/>
<rect x="127.7" y="357.3" width="1.2" height="4.4" fill="#000"/>
<rect x="333.8" y="357.3" width="1.2" height="4.4" fill="#000"/>
<line x1="106.0" y1="373.6" x2="507.4" y2="373.6" stroke="#d4d4d4" stroke-width="0.9"/>
<line x1="106.0" y1="386.3" x2="507.4" y2="386.3" stroke="#d4d4d4" stroke-width="0.9"/>
<line x1="106.0" y1="409.6" x2="507.4" y2="409.6" stroke="#d4d4d4" stroke-width="0.9"/>
<line x1="106.0" y1="422.1" x2="507.4" y2="422.1" stroke="#d4d4d4" stroke-width="0.9"/>
<line x1="106.0" y1="445.5" x2="507.4" y2="445.5" stroke="#d4d4d4" stroke-width="0.9"/>
<line x1="106.0" y1="458.1" x2="507.4" y2="458.1" stroke="#d4d4d4" stroke-width="0.9"/>
<line x1="106.0" y1="481.6" x2="507.4" y2="481.6" stroke="#d4d4d4" stroke-width="0.9"/>
<line x1="106.0" y1="493.8" x2="507.4" y2="493.8" stroke="#d4d4d4" stroke-width="0.9"/>
<line x1="106.0" y1="518.0" x2="507.4" y2="518.0" stroke="#d4d4d4" stroke-width="0.9"/>
<line x1="106.0" y1="530.2" x2="507.4" y2="530.2" stroke="#d4d4d4" stroke-width="0.9"/>
<path d="M120.20,373.6 L120.20,373.60 L121.20,372.00 L122.20,370.80 L123.30,370.00 L124.40,369.40 L125.30,368.20 L126.20,367.40 L127.20,367.30 L128.00,367.90 L128.80,369.20 L129.60,370.20 L130.50,370.60 L131.40,371.80 L132.20,373.60 L132.20,373.6 Z" fill="#0a08ec" stroke="#0a08ec" stroke-width="0.3" stroke-linejoin="round"/>
<rect x="134.3" y="372" width="1.0" height="1.6" fill="#0a08ec"/>
<rect x="186.3" y="372.4" width="1.0" height="1.2" fill="#0a08ec"/>
<rect x="202.5" y="372.4" width="1.0" height="1.2" fill="#0a08ec"/>
<rect x="225.5" y="372.6" width="1.3" height="1.0" fill="#0a08ec"/>
<path d="M252.60,373.6 C252.98,369.18 253.48,366.80 254.62,366.80 L256.88,366.80 C258.02,366.80 258.52,369.18 258.90,373.6 Z" fill="#0a08ec"/>
<path d="M260.20,373.6 C260.44,371.00 260.76,369.60 261.48,369.60 L262.92,369.60 C263.64,369.60 263.96,371.00 264.20,373.6 Z" fill="#0a08ec"/>
<path d="M263.50,373.6 C263.75,371.19 264.07,369.90 264.81,369.90 L266.29,369.90 C267.03,369.90 267.35,371.19 267.60,373.6 Z" fill="#0a08ec"/>
<rect x="271.7" y="371.5" width="0.9" height="2.1" fill="#0a08ec"/>
<rect x="277.1" y="371.5" width="0.9" height="2.1" fill="#0a08ec"/>
<path d="M288.90,373.6 C289.30,369.18 289.82,366.80 291.01,366.80 L293.39,366.80 C294.58,366.80 295.10,369.18 295.50,373.6 Z" fill="#0a08ec"/>
<path d="M293.80,373.6 C294.18,369.63 294.70,367.50 295.85,367.50 L298.15,367.50 C299.30,367.50 299.82,369.63 300.20,373.6 Z" fill="#0a08ec"/>
<path d="M300.20,373.6 C300.43,372.75 300.73,372.30 301.42,372.30 L302.78,372.30 C303.47,372.30 303.77,372.75 304.00,373.6 Z" fill="#0a08ec"/>
<rect x="302.3" y="371.8" width="1.0" height="1.8" fill="#0a08ec"/>
<rect x="310.8" y="370.5" width="1.2" height="3.1" fill="#0a08ec"/>
<path d="M328.50,373.6 C329.10,368.53 329.90,365.80 331.70,365.80 L335.30,365.80 C337.10,365.80 337.90,368.53 338.50,373.6 Z" fill="#0a08ec"/>
<rect x="340.5" y="370" width="1.0" height="3.6" fill="#0a08ec"/>
<path d="M343.80,373.6 C343.94,371.13 344.14,369.80 344.57,369.80 L345.43,369.80 C345.86,369.80 346.06,371.13 346.20,373.6 Z" fill="#0a08ec"/>
<rect x="348.4" y="371.5" width="1.0" height="2.1" fill="#0a08ec"/>
<rect x="351.3" y="371.5" width="1.0" height="2.1" fill="#0a08ec"/>
<path d="M363.40,373.6 C363.51,371.13 363.65,369.80 363.98,369.80 L364.62,369.80 C364.95,369.80 365.09,371.13 365.20,373.6 Z" fill="#0a08ec"/>
<path d="M377.80,373.6 C377.98,371.00 378.22,369.60 378.76,369.60 L379.84,369.60 C380.38,369.60 380.62,371.00 380.80,373.6 Z" fill="#0a08ec"/>
<path d="M402.50,373.6 C402.62,372.30 402.78,371.60 403.14,371.60 L403.86,371.60 C404.22,371.60 404.38,372.30 404.50,373.6 Z" fill="#0a08ec"/>
<path d="M404.80,373.6 C404.96,371.65 405.18,370.60 405.66,370.60 L406.64,370.60 C407.12,370.60 407.34,371.65 407.50,373.6 Z" fill="#0a08ec"/>
<path d="M442.00,373.6 C442.30,370.55 442.70,368.90 443.60,368.90 L445.40,368.90 C446.30,368.90 446.70,370.55 447.00,373.6 Z" fill="#0a08ec"/>
<path d="M492.60,373.6 L492.60,373.60 L493.30,369.20 L494.10,366.90 L494.80,366.50 L495.60,366.70 L496.70,367.80 L497.70,367.30 L498.70,367.10 L499.50,367.60 L500.30,368.50 L501.20,367.30 L502.20,366.70 L503.20,367.40 L504.50,368.40 L506.90,370.10 L506.90,373.6 Z" fill="#0a08ec" stroke="#0a08ec" stroke-width="0.3" stroke-linejoin="round"/>
<rect x="118.3" y="385.6" width="0.6" height="0.7" fill="#0a08ec"/>
<rect x="126.3" y="384.0" width="1.2" height="2.3" fill="#0a08ec"/>
<rect x="255.4" y="384.5" width="1.0" height="1.8" fill="#0a08ec"/>
<rect x="263.6" y="384.2" width="1.0" height="2.1" fill="#0a08ec"/>
<path d="M288.30,386.3 L288.30,386.30 L289.00,382.50 L289.90,379.40 L290.90,377.30 L291.90,376.40 L292.90,376.60 L293.90,377.80 L294.90,379.60 L295.90,381.40 L296.80,383.40 L297.60,386.30 L297.60,386.3 Z" fill="#0a08ec" stroke="#0a08ec" stroke-width="0.3" stroke-linejoin="round"/>
<rect x="300.2" y="384.6" width="1.0" height="1.7" fill="#0a08ec"/>
<path d="M331.30,386.3 C331.56,382.33 331.90,380.20 332.68,380.20 L334.22,380.20 C335.00,380.20 335.34,382.33 335.60,386.3 Z" fill="#0a08ec"/>
<rect x="444.2" y="384.5" width="1.2" height="1.8" fill="#0a08ec"/>
<path d="M491.20,386.3 L491.20,386.30 L492.30,383.20 L493.40,380.00 L494.30,378.20 L495.10,377.60 L496.20,378.30 L497.40,379.90 L498.30,378.20 L499.40,376.40 L500.50,375.10 L501.60,375.00 L502.60,375.40 L503.60,377.50 L504.60,380.60 L505.50,383.40 L506.20,386.30 L506.20,386.3 Z" fill="#0a08ec" stroke="#0a08ec" stroke-width="0.3" stroke-linejoin="round"/>
<path d="M124.80,398.4 L124.80,398.20 L125.40,395.60 L126.30,393.60 L127.30,392.20 L128.20,391.70 L129.10,392.40 L129.90,394.60 L130.60,398.20 L130.60,398.4 Z" fill="#0a08ec" stroke="#0a08ec" stroke-width="0.3" stroke-linejoin="round"/>
<rect x="177.0" y="396.8" width="1.0" height="1.6" fill="#0a08ec"/>
<rect x="217.3" y="395.8" width="1.0" height="2.6" fill="#0a08ec"/>
<rect x="230.8" y="396.4" width="1.0" height="2.0" fill="#0a08ec"/>
<path d="M253.60,398.4 C253.80,395.28 254.06,393.60 254.66,393.60 L255.84,393.60 C256.44,393.60 256.70,395.28 256.90,398.4 Z" fill="#0a08ec"/>
<path d="M291.80,398.4 C291.91,396.32 292.05,395.20 292.38,395.20 L293.02,395.20 C293.35,395.20 293.49,396.32 293.60,398.4 Z" fill="#0a08ec"/>
<path d="M294.20,398.4 C294.30,396.45 294.42,395.40 294.71,395.40 L295.29,395.40 C295.58,395.40 295.70,396.45 295.80,398.4 Z" fill="#0a08ec"/>
<path d="M329.50,398.4 C329.69,395.93 329.93,394.60 330.49,394.60 L331.61,394.60 C332.17,394.60 332.41,395.93 332.60,398.4 Z" fill="#0a08ec"/>
<path d="M340.00,398.4 C340.14,395.28 340.32,393.60 340.74,393.60 L341.56,393.60 C341.98,393.60 342.16,395.28 342.30,398.4 Z" fill="#0a08ec"/>
<path d="M403.60,398.4 C403.78,395.02 404.02,393.20 404.56,393.20 L405.64,393.20 C406.18,393.20 406.42,395.02 406.60,398.4 Z" fill="#0a08ec"/>
<rect x="413.0" y="396.6" width="0.9" height="1.8" fill="#0a08ec"/>
<rect x="427.0" y="396.6" width="0.9" height="1.8" fill="#0a08ec"/>
<rect x="437.0" y="396.6" width="0.9" height="1.8" fill="#0a08ec"/>
<rect x="446.0" y="396.6" width="0.9" height="1.8" fill="#0a08ec"/>
<rect x="454.0" y="396.6" width="0.9" height="1.8" fill="#0a08ec"/>
<rect x="459.0" y="396.6" width="0.9" height="1.8" fill="#0a08ec"/>
<rect x="465.0" y="396.6" width="0.9" height="1.8" fill="#0a08ec"/>
<rect x="470.0" y="396.6" width="0.9" height="1.8" fill="#0a08ec"/>
<rect x="477.0" y="396.6" width="0.9" height="1.8" fill="#0a08ec"/>
<rect x="484.0" y="396.6" width="0.9" height="1.8" fill="#0a08ec"/>
<path d="M493.70,398.4 L493.70,398.40 L494.10,395.00 L494.80,393.80 L495.70,394.50 L496.50,392.60 L497.40,391.50 L498.40,392.30 L499.30,391.60 L500.50,391.00 L501.40,390.20 L502.20,389.90 L503.20,390.60 L504.40,391.60 L505.60,392.70 L506.90,393.80 L506.90,398.4 Z" fill="#0a08ec" stroke="#0a08ec" stroke-width="0.3" stroke-linejoin="round"/>
<rect x="493.1" y="407.1" width="1.0" height="2.5" fill="#b01018"/>
<path d="M495.90,409.6 L495.90,404.80 L496.30,403.90 L497.00,403.70 L497.80,404.30 L498.50,405.60 L499.00,407.20 L499.60,408.60 L500.00,409.60 L500.00,409.6 Z" fill="#e60a1a" stroke="#e60a1a" stroke-width="0.3" stroke-linejoin="round"/>
<rect x="493.0" y="414.2" width="1.4" height="7.9" fill="#b01018"/>
<rect x="496.0" y="419.8" width="0.7" height="2.3" fill="#b01018"/>
<path d="M498.00,422.1 L498.00,420.50 L498.80,417.50 L499.60,414.50 L500.40,412.20 L501.30,411.30 L502.20,412.00 L502.90,414.50 L503.40,418.00 L503.90,421.70 L503.90,422.1 Z" fill="#e60a1a" stroke="#e60a1a" stroke-width="0.3" stroke-linejoin="round"/>
<rect x="493.5" y="429.5" width="0.9" height="4.1" fill="#b01018"/>
<path d="M495.70,433.6 L495.70,430.50 L497.50,430.40 L499.00,430.20 L499.80,427.50 L500.50,425.60 L501.20,425.30 L502.00,426.00 L502.80,428.00 L503.40,431.00 L503.90,433.60 L503.90,433.6 Z" fill="#e60a1a" stroke="#e60a1a" stroke-width="0.3" stroke-linejoin="round"/>
<path d="M126.00,445.5 C126.16,442.57 126.36,441.00 126.83,441.00 L127.77,441.00 C128.24,441.00 128.44,442.57 128.60,445.5 Z" fill="#e60a1a"/>
<rect x="128.8" y="443.6" width="1.0" height="1.9" fill="#e60a1a"/>
<rect x="225.0" y="443.8" width="0.9" height="1.7" fill="#e60a1a"/>
<path d="M252.70,445.5 L252.70,445.50 L253.50,443.50 L254.30,441.50 L255.00,440.00 L255.60,441.00 L256.30,443.80 L257.20,444.60 L257.80,445.50 L257.80,445.5 Z" fill="#d01020" stroke="#d01020" stroke-width="0.3" stroke-linejoin="round"/>
<path d="M330.60,445.5 C330.76,443.62 330.96,442.60 331.43,442.60 L332.37,442.60 C332.84,442.60 333.04,443.62 333.20,445.5 Z" fill="#e60a1a"/>
<rect x="333.4" y="443.8" width="1.0" height="1.7" fill="#e60a1a"/>
<path d="M495.70,445.5 C495.84,443.75 496.02,442.80 496.44,442.80 L497.26,442.80 C497.68,442.80 497.86,443.75 498.00,445.5 Z" fill="#b01018"/>
<path d="M502.60,445.5 C502.71,442.90 502.87,441.50 503.21,441.50 L503.89,441.50 C504.23,441.50 504.39,442.90 504.50,445.5 Z" fill="#b01018"/>
<path d="M126.70,458.1 C126.90,454.46 127.18,452.50 127.79,452.50 L129.01,452.50 C129.62,452.50 129.90,454.46 130.10,458.1 Z" fill="#e60a1a"/>
<rect x="493.0" y="452.5" width="1.4" height="5.6" fill="#b01018"/>
<rect x="495.7" y="452.8" width="1.3" height="5.3" fill="#b01018"/>
<path d="M497.70,458.1 L497.70,455.00 L498.50,452.00 L499.40,449.40 L500.40,447.40 L501.40,446.70 L502.30,447.30 L503.00,449.50 L503.50,453.00 L503.90,457.70 L503.90,458.1 Z" fill="#e60a1a" stroke="#e60a1a" stroke-width="0.3" stroke-linejoin="round"/>
<path d="M126.70,469.2 C126.90,465.88 127.18,464.10 127.79,464.10 L129.01,464.10 C129.62,464.10 129.90,465.88 130.10,469.2 Z" fill="#e60a1a"/>
<rect x="493.1" y="467.6" width="1.0" height="1.6" fill="#b01018"/>
<path d="M498.70,469.2 L498.70,466.00 L499.30,463.40 L500.20,462.00 L501.30,461.60 L502.40,462.20 L503.30,464.20 L503.90,467.50 L503.90,469.2 Z" fill="#e60a1a" stroke="#e60a1a" stroke-width="0.3" stroke-linejoin="round"/>
<path d="M251.80,481.6 L251.80,481.60 L252.20,479.80 L253.50,479.60 L254.60,479.20 L255.40,476.50 L256.20,475.40 L257.00,476.20 L258.00,479.00 L259.00,480.00 L259.80,481.60 L259.80,481.6 Z" fill="#d01020" stroke="#d01020" stroke-width="0.3" stroke-linejoin="round"/>
<path d="M329.00,481.6 L329.00,481.60 L329.60,480.00 L330.60,479.30 L331.80,479.20 L332.80,480.20 L333.40,479.00 L334.20,477.00 L335.20,475.60 L336.20,475.80 L337.20,477.80 L338.00,481.60 L338.00,481.6 Z" fill="#d01020" stroke="#d01020" stroke-width="0.3" stroke-linejoin="round"/>
<path d="M363.80,481.6 L363.80,481.60 L364.50,478.50 L365.00,476.80 L365.50,478.50 L366.00,481.60 L366.00,481.6 Z" fill="#d01020" stroke="#d01020" stroke-width="0.3" stroke-linejoin="round"/>
<path d="M492.50,481.6 C492.61,478.48 492.77,476.80 493.11,476.80 L493.79,476.80 C494.13,476.80 494.29,478.48 494.40,481.6 Z" fill="#b01018"/>
<path d="M496.10,481.6 C496.27,477.96 496.51,476.00 497.03,476.00 L498.07,476.00 C498.59,476.00 498.83,477.96 499.00,481.6 Z" fill="#e60a1a"/>
<path d="M501.90,481.6 C502.02,479.91 502.18,479.00 502.54,479.00 L503.26,479.00 C503.62,479.00 503.78,479.91 503.90,481.6 Z" fill="#b01018"/>
<rect x="333.2" y="491.5" width="1.0" height="2.3" fill="#e60a1a"/>
<rect x="493.3" y="489.5" width="1.5" height="4.3" fill="#b01018"/>
<path d="M495.70,493.8 L495.70,491.60 L496.70,490.20 L497.80,489.00 L498.80,487.60 L499.70,485.60 L500.50,484.20 L501.30,484.00 L502.20,484.80 L502.90,487.50 L503.50,493.50 L503.50,493.8 Z" fill="#e60a1a" stroke="#e60a1a" stroke-width="0.3" stroke-linejoin="round"/>
<path d="M499.30,505.4 L499.30,503.00 L499.80,500.00 L500.60,498.30 L501.30,497.90 L502.10,498.40 L502.90,500.40 L503.50,503.40 L503.50,505.4 Z" fill="#e60a1a" stroke="#e60a1a" stroke-width="0.3" stroke-linejoin="round"/>
<path d="M126.70,518.0 C126.84,515.99 127.02,514.90 127.44,514.90 L128.26,514.90 C128.68,514.90 128.86,515.99 129.00,518.0 Z" fill="#e60a1a"/>
<rect x="201.1" y="516.4" width="0.9" height="1.6" fill="#e60a1a"/>
<rect x="224.9" y="516.8" width="0.9" height="1.2" fill="#e60a1a"/>
<path d="M252.60,518.0 L252.60,518.00 L253.20,515.50 L254.20,514.60 L256.80,514.60 L257.80,515.50 L258.60,518.00 L258.60,518.0 Z" fill="#d01020" stroke="#d01020" stroke-width="0.3" stroke-linejoin="round"/>
<path d="M289.50,518.0 L289.50,518.00 L290.30,515.50 L291.00,513.50 L291.70,515.00 L292.50,518.00 L292.50,518.0 Z" fill="#d01020" stroke="#d01020" stroke-width="0.3" stroke-linejoin="round"/>
<path d="M295.90,518.0 L295.90,518.00 L296.40,515.50 L296.80,513.60 L297.20,515.50 L297.70,518.00 L297.70,518.0 Z" fill="#d01020" stroke="#d01020" stroke-width="0.3" stroke-linejoin="round"/>
<path d="M329.60,518.0 L329.60,518.00 L330.20,515.50 L331.00,514.20 L332.00,514.00 L332.80,514.80 L333.60,514.00 L334.60,514.00 L335.40,515.00 L336.20,518.00 L336.20,518.0 Z" fill="#d01020" stroke="#d01020" stroke-width="0.3" stroke-linejoin="round"/>
<path d="M363.80,518.0 L363.80,518.00 L364.50,515.50 L365.00,513.80 L365.50,515.50 L366.00,518.00 L366.00,518.0 Z" fill="#d01020" stroke="#d01020" stroke-width="0.3" stroke-linejoin="round"/>
<path d="M491.70,518.0 C491.89,514.82 492.13,513.10 492.69,513.10 L493.81,513.10 C494.37,513.10 494.61,514.82 494.80,518.0 Z" fill="#e60a1a"/>
<path d="M495.90,518.0 C496.09,513.97 496.33,511.80 496.89,511.80 L498.01,511.80 C498.57,511.80 498.81,513.97 499.00,518.0 Z" fill="#e60a1a"/>
<path d="M501.60,518.0 C501.87,514.82 502.23,513.10 503.04,513.10 L504.66,513.10 C505.47,513.10 505.83,514.82 506.10,518.0 Z" fill="#e60a1a"/>
<path d="M126.70,530.2 C126.90,527.47 127.16,526.00 127.76,526.00 L128.94,526.00 C129.54,526.00 129.80,527.47 130.00,530.2 Z" fill="#e60a1a"/>
<rect x="291.2" y="527.0" width="1.2" height="3.2" fill="#d01020"/>
<rect x="296.1" y="527.0" width="0.9" height="3.2" fill="#d01020"/>
<path d="M331.60,530.2 C331.77,529.23 332.01,528.70 332.53,528.70 L333.57,528.70 C334.09,528.70 334.33,529.23 334.50,530.2 Z" fill="#d01020"/>
<rect x="492.8" y="522.9" width="2.0" height="7.3" fill="#b01018"/>
<rect x="495.7" y="523.9" width="1.3" height="6.3" fill="#b01018"/>
<path d="M496.70,530.2 L496.70,526.50 L497.60,525.50 L498.60,524.00 L499.60,521.60 L500.50,519.80 L501.30,519.30 L502.20,520.00 L503.00,523.00 L503.60,526.50 L503.90,529.70 L503.90,530.2 Z" fill="#e60a1a" stroke="#e60a1a" stroke-width="0.3" stroke-linejoin="round"/>
<path d="M499.00,541.8 L499.00,540.00 L499.50,537.00 L500.30,535.00 L501.30,534.20 L502.30,534.80 L502.90,537.00 L503.20,541.00 L503.20,541.8 Z" fill="#e60a1a" stroke="#e60a1a" stroke-width="0.3" stroke-linejoin="round"/>
<line x1="105.5" y1="344.2" x2="507.9" y2="344.2" stroke="#101030" stroke-width="1.0"/>
<line x1="106.0" y1="363.5" x2="507.4" y2="363.5" stroke="#222" stroke-width="1.3"/>
<line x1="106.0" y1="398.6" x2="507.4" y2="398.6" stroke="#222" stroke-width="1.3"/>
<line x1="106.0" y1="434.0" x2="507.4" y2="434.0" stroke="#222" stroke-width="1.3"/>
<line x1="106.0" y1="469.5" x2="507.4" y2="469.5" stroke="#222" stroke-width="1.3"/>
<line x1="106.0" y1="505.6" x2="507.4" y2="505.6" stroke="#222" stroke-width="1.3"/>
<line x1="106.0" y1="542.0" x2="507.4" y2="542.0" stroke="#222" stroke-width="1.3"/>
<line x1="106.0" y1="549.8" x2="507.4" y2="549.8" stroke="#000" stroke-width="1.4"/>
<line x1="106.0" y1="344.2" x2="106.0" y2="550.4" stroke="#000" stroke-width="1.4"/>
<line x1="507.4" y1="344.2" x2="507.4" y2="550.4" stroke="#000" stroke-width="1.4"/>
<text x="166.5" y="548.9" font-size="4.2" text-anchor="middle" textLength="21.5" lengthAdjust="spacingAndGlyphs" fill="#444">50,500,000</text>
<text x="244.3" y="548.9" font-size="4.2" text-anchor="middle" textLength="21.5" lengthAdjust="spacingAndGlyphs" fill="#444">50,525,000</text>
<text x="322.2" y="548.9" font-size="4.2" text-anchor="middle" textLength="21.5" lengthAdjust="spacingAndGlyphs" fill="#444">50,550,000</text>
<text x="400.6" y="548.9" font-size="4.2" text-anchor="middle" textLength="21.5" lengthAdjust="spacingAndGlyphs" fill="#444">50,575,000</text>
<text x="478.2" y="548.9" font-size="4.2" text-anchor="middle" textLength="21.5" lengthAdjust="spacingAndGlyphs" fill="#444">50,600,000</text>
<rect x="123.3" y="338.4" width="15.000000000000014" height="215.80000000000007" fill="none" stroke="#000" stroke-width="1.3" stroke-dasharray="2.7,1.4"/>
<text x="130.8" y="564.8" font-size="8.2" text-anchor="middle" textLength="60" lengthAdjust="spacingAndGlyphs" fill="#1a1a1a">hypermethylated</text>
<text x="131.0" y="574.7" font-size="8.2" text-anchor="middle" textLength="18.8" lengthAdjust="spacingAndGlyphs" fill="#1a1a1a">DMC</text>
<rect x="325.3" y="338.4" width="15.599999999999966" height="215.80000000000007" fill="none" stroke="#000" stroke-width="1.3" stroke-dasharray="2.7,1.4"/>
<text x="333.1" y="564.8" font-size="8.2" text-anchor="middle" textLength="60" lengthAdjust="spacingAndGlyphs" fill="#1a1a1a">hypermethylated</text>
<text x="333.3" y="574.7" font-size="8.2" text-anchor="middle" textLength="18.8" lengthAdjust="spacingAndGlyphs" fill="#1a1a1a">DMC</text>
<text x="60.8" y="375.6" font-size="8" textLength="35.5" lengthAdjust="spacingAndGlyphs" fill="#1a1a1a">H3K4me1</text>
<text x="60.8" y="384.9" font-size="8" textLength="35.5" lengthAdjust="spacingAndGlyphs" fill="#1a1a1a">H3K4me3</text>
<text x="60.8" y="395.7" font-size="8" textLength="32.3" lengthAdjust="spacingAndGlyphs" fill="#1a1a1a">H3K27ac</text>
<text x="60.8" y="408.8" font-size="8" textLength="35.5" lengthAdjust="spacingAndGlyphs" fill="#1a1a1a">H3K4me1</text>
<text x="60.8" y="418.1" font-size="8" textLength="35.5" lengthAdjust="spacingAndGlyphs" fill="#1a1a1a">H3K4me3</text>
<text x="60.8" y="429.5" font-size="8" textLength="32.3" lengthAdjust="spacingAndGlyphs" fill="#1a1a1a">H3K27ac</text>
<text x="60.8" y="444.0" font-size="8" textLength="35.5" lengthAdjust="spacingAndGlyphs" fill="#1a1a1a">H3K4me1</text>
<text x="60.8" y="453.3" font-size="8" textLength="35.5" lengthAdjust="spacingAndGlyphs" fill="#1a1a1a">H3K4me3</text>
<text x="60.8" y="464.6" font-size="8" textLength="32.3" lengthAdjust="spacingAndGlyphs" fill="#1a1a1a">H3K27ac</text>
<text x="60.8" y="479.2" font-size="8" textLength="35.5" lengthAdjust="spacingAndGlyphs" fill="#1a1a1a">H3K4me1</text>
<text x="60.8" y="488.5" font-size="8" textLength="35.5" lengthAdjust="spacingAndGlyphs" fill="#1a1a1a">H3K4me3</text>
<text x="60.8" y="499.4" font-size="8" textLength="32.3" lengthAdjust="spacingAndGlyphs" fill="#1a1a1a">H3K27ac</text>
<text x="60.8" y="514.2" font-size="8" textLength="35.5" lengthAdjust="spacingAndGlyphs" fill="#1a1a1a">H3K4me1</text>
<text x="60.8" y="523.8" font-size="8" textLength="35.5" lengthAdjust="spacingAndGlyphs" fill="#1a1a1a">H3K4me3</text>
<text x="60.8" y="535.0" font-size="8" textLength="32.3" lengthAdjust="spacingAndGlyphs" fill="#1a1a1a">H3K27ac</text>
<text x="28.1" y="386.2" font-size="8" textLength="20.2" lengthAdjust="spacingAndGlyphs" fill="#1a1a1a">CD34</text>
<text transform="translate(40.4,470.3) rotate(-90)" font-size="8.1" text-anchor="middle" textLength="31" lengthAdjust="spacingAndGlyphs" fill="#1a1a1a">CN-AML</text>
<path d="M55.5,411.2 H51.6 V529.2 H55.5" fill="none" stroke="#000" stroke-width="1.2"/>
</g>
<rect x="0" y="0" width="520" height="1.2" fill="#000"/>
<rect x="0" y="0" width="1.5" height="584" fill="#000"/>
<rect x="518.4" y="0" width="1.6" height="584" fill="#000"/>
<rect x="0" y="582.5" width="520" height="1.5" fill="#000"/>
</svg>
</body></html>
